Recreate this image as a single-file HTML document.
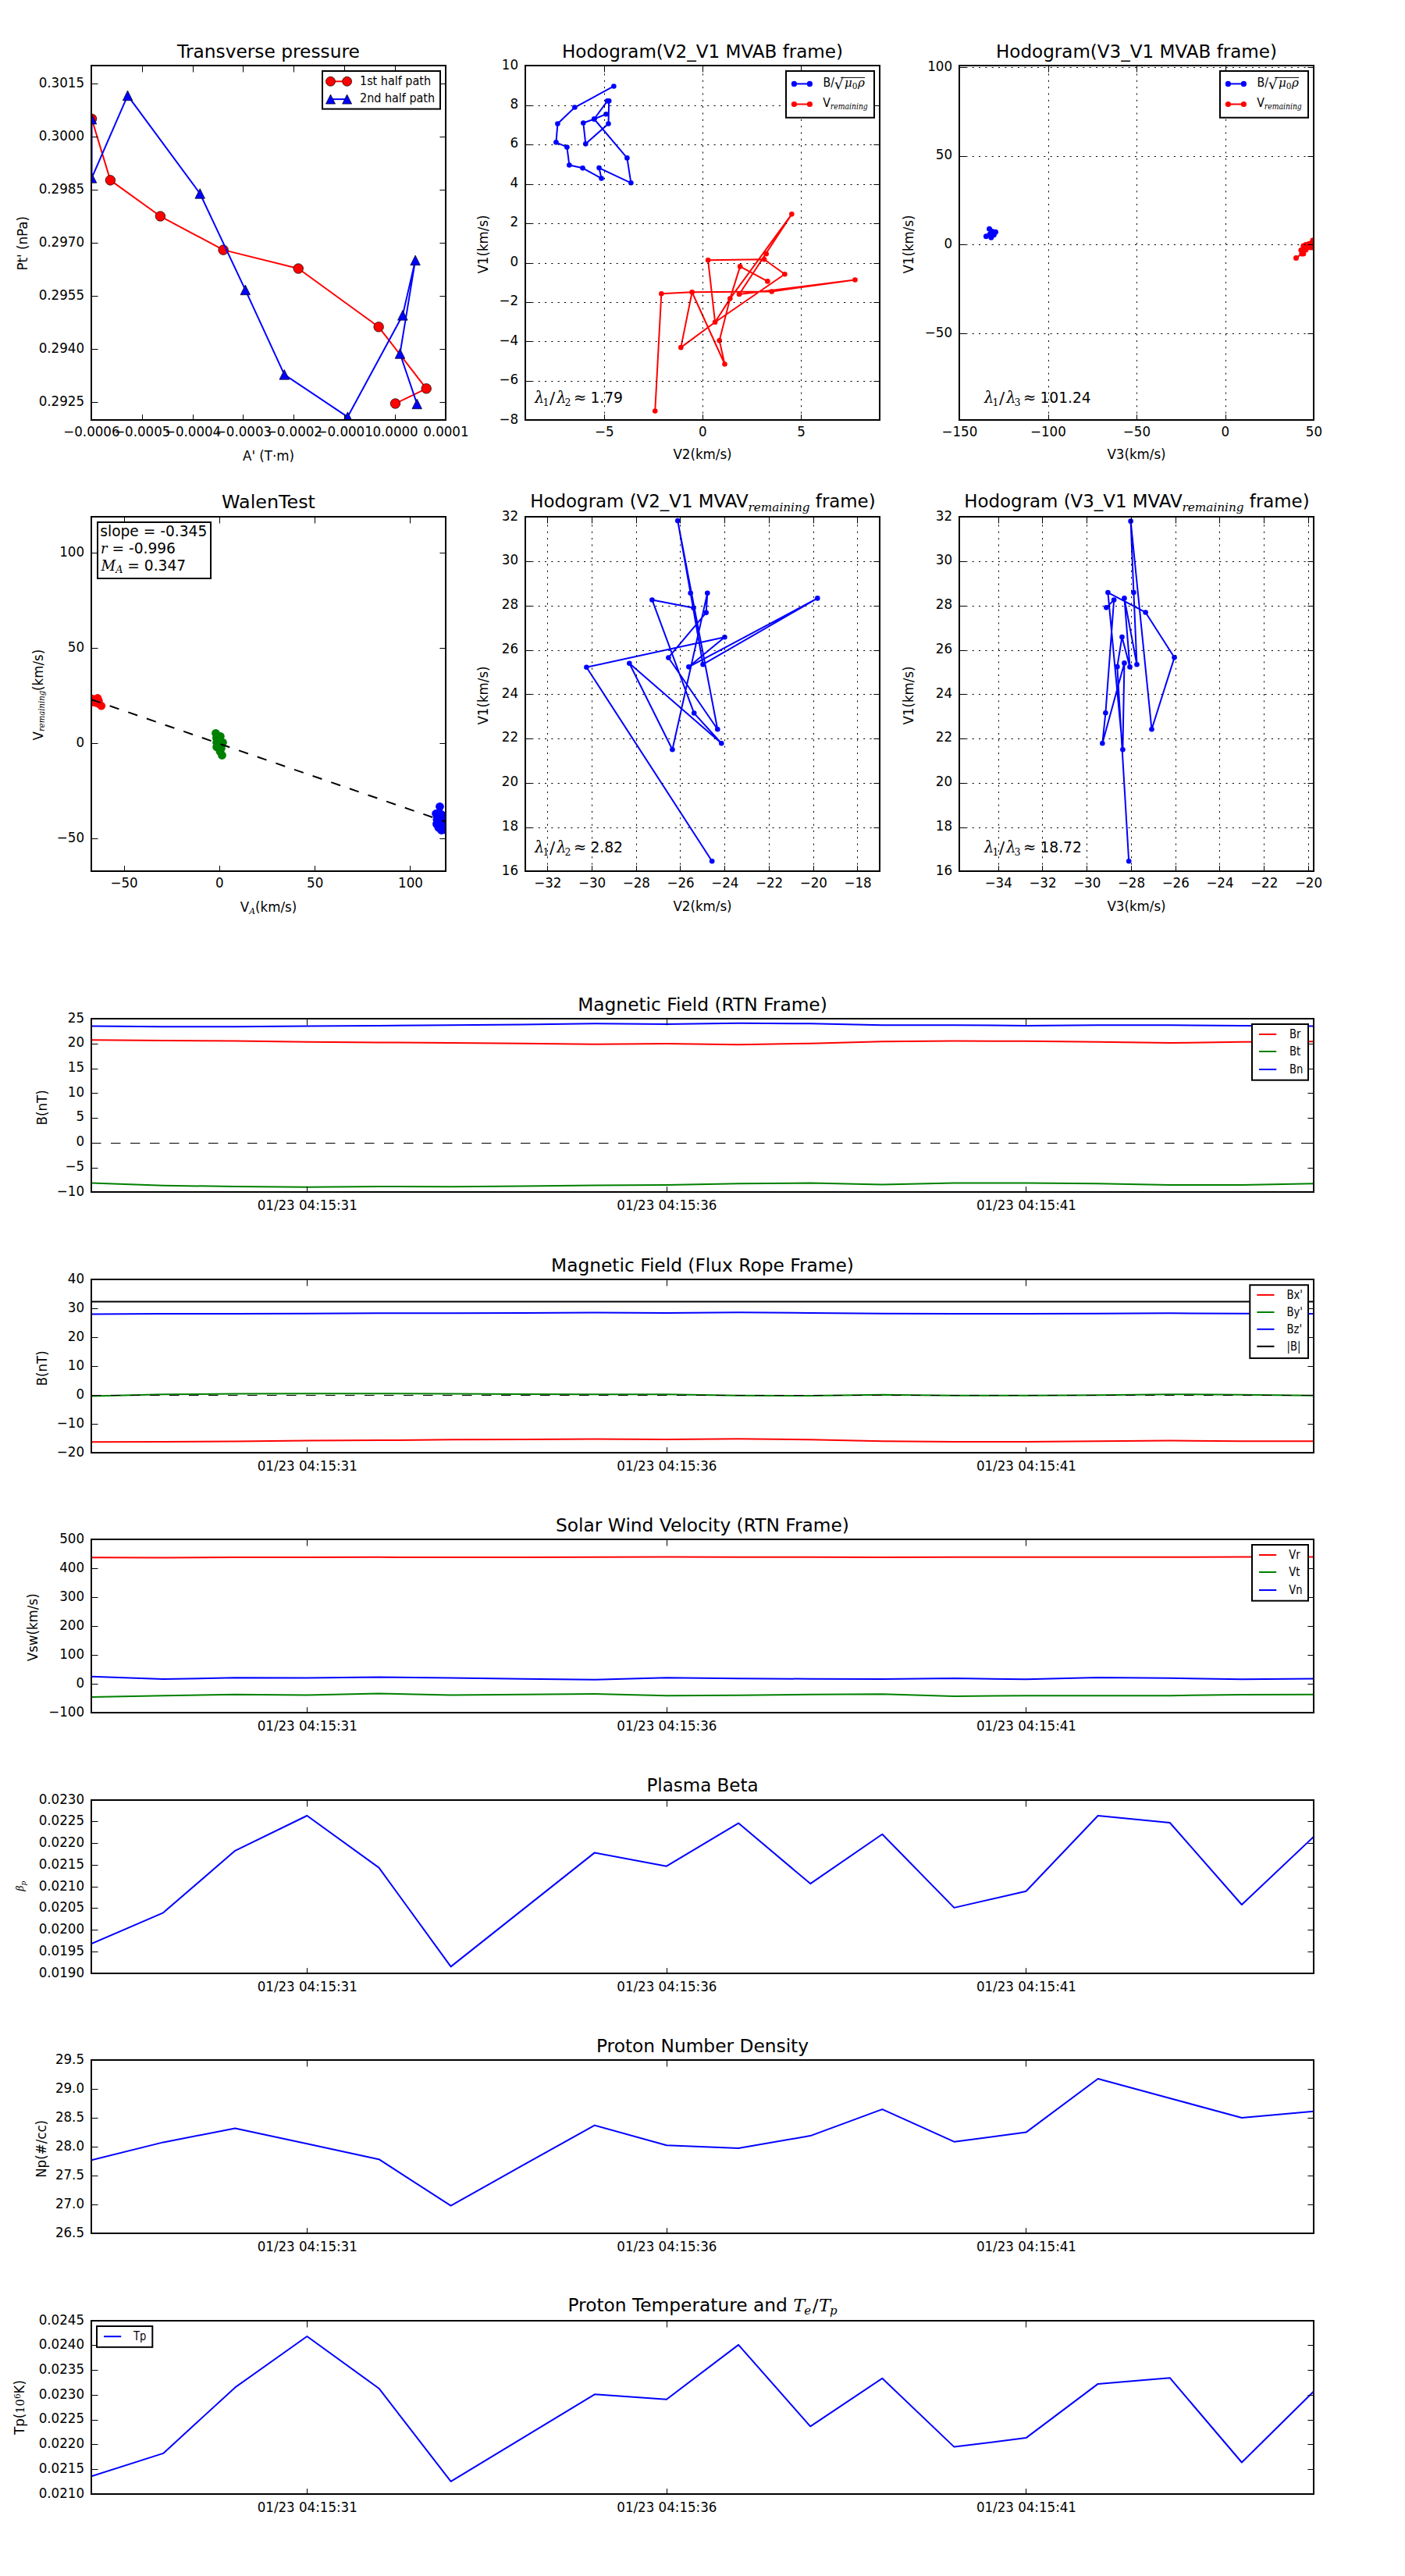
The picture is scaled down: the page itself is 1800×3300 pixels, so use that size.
<!DOCTYPE html>
<html><head><meta charset="utf-8"><title>Figure</title>
<style>html,body{margin:0;padding:0;background:#fff}svg{display:block}</style>
</head><body>
<svg width="1800" height="3300" viewBox="0 0 1800 3300" font-family='"DejaVu Sans", "Liberation Sans", sans-serif'>
<rect width="1800" height="3300" fill="#fff"/>
<clipPath id="c1"><rect x="117" y="84" width="454" height="454"/></clipPath>
<g clip-path="url(#c1)">
<polyline fill="none" stroke="#ff0000" stroke-width="2" stroke-linejoin="round" points="117.5,152.2 141.35,230.89 205.41,277.01 286.12,320.14 382.2,344.05 485.12,418.78 546.18,497.79 506.47,517"/>
<circle cx="117.5" cy="152.2" r="6.3" fill="#ff0000" stroke="#000" stroke-width="0.7"/>
<circle cx="141.35" cy="230.89" r="6.3" fill="#ff0000" stroke="#000" stroke-width="0.7"/>
<circle cx="205.41" cy="277.01" r="6.3" fill="#ff0000" stroke="#000" stroke-width="0.7"/>
<circle cx="286.12" cy="320.14" r="6.3" fill="#ff0000" stroke="#000" stroke-width="0.7"/>
<circle cx="382.2" cy="344.05" r="6.3" fill="#ff0000" stroke="#000" stroke-width="0.7"/>
<circle cx="485.12" cy="418.78" r="6.3" fill="#ff0000" stroke="#000" stroke-width="0.7"/>
<circle cx="546.18" cy="497.79" r="6.3" fill="#ff0000" stroke="#000" stroke-width="0.7"/>
<circle cx="506.47" cy="517" r="6.3" fill="#ff0000" stroke="#000" stroke-width="0.7"/>
<polyline fill="none" stroke="#0000ff" stroke-width="2" stroke-linejoin="round" points="117.5,152.6 117.5,228 163.56,122.42 256.22,247.97 314.3,371.38 364.27,479.85 445.4,534.09 515.86,403.84 532.09,333.38 512.45,452.95 534.23,517.43"/>
<polygon points="117.5,146.3 111.2,158.9 123.8,158.9" fill="#0000ff" stroke="#000" stroke-width="0.7" stroke-linejoin="miter"/>
<polygon points="117.5,221.7 111.2,234.3 123.8,234.3" fill="#0000ff" stroke="#000" stroke-width="0.7" stroke-linejoin="miter"/>
<polygon points="163.56,116.12 157.26,128.72 169.86,128.72" fill="#0000ff" stroke="#000" stroke-width="0.7" stroke-linejoin="miter"/>
<polygon points="256.22,241.67 249.92,254.27 262.52,254.27" fill="#0000ff" stroke="#000" stroke-width="0.7" stroke-linejoin="miter"/>
<polygon points="314.3,365.08 308,377.68 320.6,377.68" fill="#0000ff" stroke="#000" stroke-width="0.7" stroke-linejoin="miter"/>
<polygon points="364.27,473.55 357.97,486.15 370.57,486.15" fill="#0000ff" stroke="#000" stroke-width="0.7" stroke-linejoin="miter"/>
<polygon points="445.4,527.79 439.1,540.39 451.7,540.39" fill="#0000ff" stroke="#000" stroke-width="0.7" stroke-linejoin="miter"/>
<polygon points="515.86,397.54 509.56,410.14 522.16,410.14" fill="#0000ff" stroke="#000" stroke-width="0.7" stroke-linejoin="miter"/>
<polygon points="532.09,327.08 525.79,339.68 538.39,339.68" fill="#0000ff" stroke="#000" stroke-width="0.7" stroke-linejoin="miter"/>
<polygon points="512.45,446.65 506.15,459.25 518.75,459.25" fill="#0000ff" stroke="#000" stroke-width="0.7" stroke-linejoin="miter"/>
<polygon points="534.23,511.13 527.93,523.73 540.53,523.73" fill="#0000ff" stroke="#000" stroke-width="0.7" stroke-linejoin="miter"/>
</g>
<rect x="117" y="84" width="454" height="454" fill="none" stroke="#000" stroke-width="2"/>
<text transform="translate(117.4 559.4) scale(0.947 1)" font-size="17.6" text-anchor="middle" fill="#000">−0.0006</text>
<line x1="182.5" y1="538" x2="182.5" y2="531.1" stroke="#000" stroke-width="1"/>
<line x1="182.5" y1="84" x2="182.5" y2="92.5" stroke="#000" stroke-width="1"/>
<text transform="translate(182.26 559.4) scale(0.947 1)" font-size="17.6" text-anchor="middle" fill="#000">−0.0005</text>
<line x1="247.5" y1="538" x2="247.5" y2="531.1" stroke="#000" stroke-width="1"/>
<line x1="247.5" y1="84" x2="247.5" y2="92.5" stroke="#000" stroke-width="1"/>
<text transform="translate(247.11 559.4) scale(0.947 1)" font-size="17.6" text-anchor="middle" fill="#000">−0.0004</text>
<line x1="311.5" y1="538" x2="311.5" y2="531.1" stroke="#000" stroke-width="1"/>
<line x1="311.5" y1="84" x2="311.5" y2="92.5" stroke="#000" stroke-width="1"/>
<text transform="translate(311.97 559.4) scale(0.947 1)" font-size="17.6" text-anchor="middle" fill="#000">−0.0003</text>
<line x1="376.5" y1="538" x2="376.5" y2="531.1" stroke="#000" stroke-width="1"/>
<line x1="376.5" y1="84" x2="376.5" y2="92.5" stroke="#000" stroke-width="1"/>
<text transform="translate(376.83 559.4) scale(0.947 1)" font-size="17.6" text-anchor="middle" fill="#000">−0.0002</text>
<line x1="441.5" y1="538" x2="441.5" y2="531.1" stroke="#000" stroke-width="1"/>
<line x1="441.5" y1="84" x2="441.5" y2="92.5" stroke="#000" stroke-width="1"/>
<text transform="translate(441.68 559.4) scale(0.947 1)" font-size="17.6" text-anchor="middle" fill="#000">−0.0001</text>
<line x1="506.5" y1="538" x2="506.5" y2="531.1" stroke="#000" stroke-width="1"/>
<line x1="506.5" y1="84" x2="506.5" y2="92.5" stroke="#000" stroke-width="1"/>
<text transform="translate(506.54 559.4) scale(0.947 1)" font-size="17.6" text-anchor="middle" fill="#000">0.0000</text>
<text transform="translate(571.4 559.4) scale(0.947 1)" font-size="17.6" text-anchor="middle" fill="#000">0.0001</text>
<line x1="117" y1="107.5" x2="125.5" y2="107.5" stroke="#000" stroke-width="1"/>
<line x1="571" y1="107.5" x2="563.4" y2="107.5" stroke="#000" stroke-width="1"/>
<text transform="translate(108 111.6) scale(0.947 1)" font-size="17.6" text-anchor="end" fill="#000">0.3015</text>
<line x1="117" y1="175.5" x2="125.5" y2="175.5" stroke="#000" stroke-width="1"/>
<line x1="571" y1="175.5" x2="563.4" y2="175.5" stroke="#000" stroke-width="1"/>
<text transform="translate(108 179.6) scale(0.947 1)" font-size="17.6" text-anchor="end" fill="#000">0.3000</text>
<line x1="117" y1="243.5" x2="125.5" y2="243.5" stroke="#000" stroke-width="1"/>
<line x1="571" y1="243.5" x2="563.4" y2="243.5" stroke="#000" stroke-width="1"/>
<text transform="translate(108 247.6) scale(0.947 1)" font-size="17.6" text-anchor="end" fill="#000">0.2985</text>
<line x1="117" y1="311.5" x2="125.5" y2="311.5" stroke="#000" stroke-width="1"/>
<line x1="571" y1="311.5" x2="563.4" y2="311.5" stroke="#000" stroke-width="1"/>
<text transform="translate(108 315.6) scale(0.947 1)" font-size="17.6" text-anchor="end" fill="#000">0.2970</text>
<line x1="117" y1="379.5" x2="125.5" y2="379.5" stroke="#000" stroke-width="1"/>
<line x1="571" y1="379.5" x2="563.4" y2="379.5" stroke="#000" stroke-width="1"/>
<text transform="translate(108 383.6) scale(0.947 1)" font-size="17.6" text-anchor="end" fill="#000">0.2955</text>
<line x1="117" y1="447.5" x2="125.5" y2="447.5" stroke="#000" stroke-width="1"/>
<line x1="571" y1="447.5" x2="563.4" y2="447.5" stroke="#000" stroke-width="1"/>
<text transform="translate(108 451.6) scale(0.947 1)" font-size="17.6" text-anchor="end" fill="#000">0.2940</text>
<line x1="117" y1="515.5" x2="125.5" y2="515.5" stroke="#000" stroke-width="1"/>
<line x1="571" y1="515.5" x2="563.4" y2="515.5" stroke="#000" stroke-width="1"/>
<text transform="translate(108 519.6) scale(0.947 1)" font-size="17.6" text-anchor="end" fill="#000">0.2925</text>
<text x="344" y="73.6" font-size="23.3" text-anchor="middle" fill="#000">Transverse pressure</text>
<text transform="translate(344 590.3) scale(0.947 1)" font-size="17.6" text-anchor="middle" fill="#000">A' (T·m)</text>
<text transform="translate(35 311.7) rotate(-90) scale(0.947 1)" font-size="17.6" text-anchor="middle">Pt' (nPa)</text>
<rect x="413" y="91" width="151" height="48.6" fill="#fff" stroke="#000" stroke-width="2"/>
<line x1="423.5" y1="104.3" x2="444.6" y2="104.3" stroke="#ff0000" stroke-width="2"/>
<circle cx="423.5" cy="104.3" r="6" fill="#ff0000" stroke="#000" stroke-width="0.7"/>
<circle cx="444.6" cy="104.3" r="6" fill="#ff0000" stroke="#000" stroke-width="0.7"/>
<line x1="423.5" y1="127.1" x2="444.6" y2="127.1" stroke="#0000ff" stroke-width="2"/>
<polygon points="423.5,121.1 417.5,133.1 429.5,133.1" fill="#0000ff" stroke="#000" stroke-width="0.7" stroke-linejoin="miter"/>
<polygon points="444.6,121.1 438.6,133.1 450.6,133.1" fill="#0000ff" stroke="#000" stroke-width="0.7" stroke-linejoin="miter"/>
<text transform="translate(461 108.5) scale(0.94 1)" font-size="15.3" text-anchor="start" fill="#000">1st half path</text>
<text transform="translate(461 131.3) scale(0.94 1)" font-size="15.3" text-anchor="start" fill="#000">2nd half path</text>
<clipPath id="c2"><rect x="673" y="84" width="454" height="454"/></clipPath>
<g clip-path="url(#c2)">
<polyline fill="none" stroke="#0000ff" stroke-width="2" stroke-linejoin="round" points="786.35,110.43 736.33,137.53 714.41,158.45 712.42,182.37 726.37,188.45 729.36,211.56 746.5,215.35 770.51,228.5 767.52,215.05 808.37,234.28 803.39,202.4 761.24,152.48 778.18,129.36 780.18,129.36 779.48,158.45 750.28,184.36 747.29,157.46 761.24,152.48 776.49,146.3"/>
<circle cx="786.35" cy="110.43" r="3.3" fill="#0000ff"/>
<circle cx="736.33" cy="137.53" r="3.3" fill="#0000ff"/>
<circle cx="714.41" cy="158.45" r="3.3" fill="#0000ff"/>
<circle cx="712.42" cy="182.37" r="3.3" fill="#0000ff"/>
<circle cx="726.37" cy="188.45" r="3.3" fill="#0000ff"/>
<circle cx="729.36" cy="211.56" r="3.3" fill="#0000ff"/>
<circle cx="746.5" cy="215.35" r="3.3" fill="#0000ff"/>
<circle cx="770.51" cy="228.5" r="3.3" fill="#0000ff"/>
<circle cx="767.52" cy="215.05" r="3.3" fill="#0000ff"/>
<circle cx="808.37" cy="234.28" r="3.3" fill="#0000ff"/>
<circle cx="803.39" cy="202.4" r="3.3" fill="#0000ff"/>
<circle cx="761.24" cy="152.48" r="3.3" fill="#0000ff"/>
<circle cx="778.18" cy="129.36" r="3.3" fill="#0000ff"/>
<circle cx="780.18" cy="129.36" r="3.3" fill="#0000ff"/>
<circle cx="779.48" cy="158.45" r="3.3" fill="#0000ff"/>
<circle cx="750.28" cy="184.36" r="3.3" fill="#0000ff"/>
<circle cx="747.29" cy="157.46" r="3.3" fill="#0000ff"/>
<circle cx="761.24" cy="152.48" r="3.3" fill="#0000ff"/>
<circle cx="776.49" cy="146.3" r="3.3" fill="#0000ff"/>
<polyline fill="none" stroke="#ff0000" stroke-width="2" stroke-linejoin="round" points="839.22,526.53 847.33,376.2 886.62,374.28 872.32,445.17 916.09,412.72 1005.35,351.22 979.09,332.21 907.12,333.28 916.09,412.72 935.31,382.61 1014.32,274.34 947.06,377.06 1095.46,358.48 988.7,373.43 886.62,374.28 928.48,466.53 921.64,436.21 935.31,382.61 948.12,341.39 983.36,360.4"/>
<circle cx="839.22" cy="526.53" r="3.3" fill="#ff0000"/>
<circle cx="847.33" cy="376.2" r="3.3" fill="#ff0000"/>
<circle cx="886.62" cy="374.28" r="3.3" fill="#ff0000"/>
<circle cx="928.48" cy="466.53" r="3.3" fill="#ff0000"/>
<circle cx="921.64" cy="436.21" r="3.3" fill="#ff0000"/>
<circle cx="935.31" cy="382.61" r="3.3" fill="#ff0000"/>
<circle cx="948.12" cy="341.39" r="3.3" fill="#ff0000"/>
<circle cx="983.36" cy="360.4" r="3.3" fill="#ff0000"/>
<circle cx="1005.35" cy="351.22" r="3.3" fill="#ff0000"/>
<circle cx="979.09" cy="332.21" r="3.3" fill="#ff0000"/>
<circle cx="907.12" cy="333.28" r="3.3" fill="#ff0000"/>
<circle cx="916.09" cy="412.72" r="3.3" fill="#ff0000"/>
<circle cx="1014.32" cy="274.34" r="3.3" fill="#ff0000"/>
<circle cx="981.65" cy="325.17" r="3.3" fill="#ff0000"/>
<circle cx="947.06" cy="377.06" r="3.3" fill="#ff0000"/>
<circle cx="1095.46" cy="358.48" r="3.3" fill="#ff0000"/>
<circle cx="988.7" cy="373.43" r="3.3" fill="#ff0000"/>
<circle cx="872.32" cy="445.17" r="3.3" fill="#ff0000"/>
</g>
<line x1="774.5" y1="538" x2="774.5" y2="84" stroke="#000" stroke-width="1" stroke-dasharray="2.08 6.25"/>
<line x1="900.5" y1="538" x2="900.5" y2="84" stroke="#000" stroke-width="1" stroke-dasharray="2.08 6.25"/>
<line x1="1026.5" y1="538" x2="1026.5" y2="84" stroke="#000" stroke-width="1" stroke-dasharray="2.08 6.25"/>
<line x1="673" y1="488.5" x2="1127" y2="488.5" stroke="#000" stroke-width="1" stroke-dasharray="2.08 6.25"/>
<line x1="673" y1="437.5" x2="1127" y2="437.5" stroke="#000" stroke-width="1" stroke-dasharray="2.08 6.25"/>
<line x1="673" y1="387.5" x2="1127" y2="387.5" stroke="#000" stroke-width="1" stroke-dasharray="2.08 6.25"/>
<line x1="673" y1="337.5" x2="1127" y2="337.5" stroke="#000" stroke-width="1" stroke-dasharray="2.08 6.25"/>
<line x1="673" y1="286.5" x2="1127" y2="286.5" stroke="#000" stroke-width="1" stroke-dasharray="2.08 6.25"/>
<line x1="673" y1="236.5" x2="1127" y2="236.5" stroke="#000" stroke-width="1" stroke-dasharray="2.08 6.25"/>
<line x1="673" y1="185.5" x2="1127" y2="185.5" stroke="#000" stroke-width="1" stroke-dasharray="2.08 6.25"/>
<line x1="673" y1="135.5" x2="1127" y2="135.5" stroke="#000" stroke-width="1" stroke-dasharray="2.08 6.25"/>
<rect x="673" y="84" width="454" height="454" fill="none" stroke="#000" stroke-width="2"/>
<line x1="774.5" y1="538" x2="774.5" y2="531.1" stroke="#000" stroke-width="1"/>
<line x1="774.5" y1="84" x2="774.5" y2="92.5" stroke="#000" stroke-width="1"/>
<text transform="translate(774.29 559.4) scale(0.947 1)" font-size="17.6" text-anchor="middle" fill="#000">−5</text>
<line x1="900.5" y1="538" x2="900.5" y2="531.1" stroke="#000" stroke-width="1"/>
<line x1="900.5" y1="84" x2="900.5" y2="92.5" stroke="#000" stroke-width="1"/>
<text transform="translate(900.4 559.4) scale(0.947 1)" font-size="17.6" text-anchor="middle" fill="#000">0</text>
<line x1="1026.5" y1="538" x2="1026.5" y2="531.1" stroke="#000" stroke-width="1"/>
<line x1="1026.5" y1="84" x2="1026.5" y2="92.5" stroke="#000" stroke-width="1"/>
<text transform="translate(1026.51 559.4) scale(0.947 1)" font-size="17.6" text-anchor="middle" fill="#000">5</text>
<text transform="translate(664 88.6) scale(0.947 1)" font-size="17.6" text-anchor="end" fill="#000">10</text>
<line x1="673" y1="135.5" x2="681.5" y2="135.5" stroke="#000" stroke-width="1"/>
<line x1="1127" y1="135.5" x2="1119.4" y2="135.5" stroke="#000" stroke-width="1"/>
<text transform="translate(664 139.04) scale(0.947 1)" font-size="17.6" text-anchor="end" fill="#000">8</text>
<line x1="673" y1="185.5" x2="681.5" y2="185.5" stroke="#000" stroke-width="1"/>
<line x1="1127" y1="185.5" x2="1119.4" y2="185.5" stroke="#000" stroke-width="1"/>
<text transform="translate(664 189.49) scale(0.947 1)" font-size="17.6" text-anchor="end" fill="#000">6</text>
<line x1="673" y1="236.5" x2="681.5" y2="236.5" stroke="#000" stroke-width="1"/>
<line x1="1127" y1="236.5" x2="1119.4" y2="236.5" stroke="#000" stroke-width="1"/>
<text transform="translate(664 239.93) scale(0.947 1)" font-size="17.6" text-anchor="end" fill="#000">4</text>
<line x1="673" y1="286.5" x2="681.5" y2="286.5" stroke="#000" stroke-width="1"/>
<line x1="1127" y1="286.5" x2="1119.4" y2="286.5" stroke="#000" stroke-width="1"/>
<text transform="translate(664 290.38) scale(0.947 1)" font-size="17.6" text-anchor="end" fill="#000">2</text>
<line x1="673" y1="337.5" x2="681.5" y2="337.5" stroke="#000" stroke-width="1"/>
<line x1="1127" y1="337.5" x2="1119.4" y2="337.5" stroke="#000" stroke-width="1"/>
<text transform="translate(664 340.82) scale(0.947 1)" font-size="17.6" text-anchor="end" fill="#000">0</text>
<line x1="673" y1="387.5" x2="681.5" y2="387.5" stroke="#000" stroke-width="1"/>
<line x1="1127" y1="387.5" x2="1119.4" y2="387.5" stroke="#000" stroke-width="1"/>
<text transform="translate(664 391.27) scale(0.947 1)" font-size="17.6" text-anchor="end" fill="#000">−2</text>
<line x1="673" y1="437.5" x2="681.5" y2="437.5" stroke="#000" stroke-width="1"/>
<line x1="1127" y1="437.5" x2="1119.4" y2="437.5" stroke="#000" stroke-width="1"/>
<text transform="translate(664 441.71) scale(0.947 1)" font-size="17.6" text-anchor="end" fill="#000">−4</text>
<line x1="673" y1="488.5" x2="681.5" y2="488.5" stroke="#000" stroke-width="1"/>
<line x1="1127" y1="488.5" x2="1119.4" y2="488.5" stroke="#000" stroke-width="1"/>
<text transform="translate(664 492.16) scale(0.947 1)" font-size="17.6" text-anchor="end" fill="#000">−6</text>
<text transform="translate(664 542.6) scale(0.947 1)" font-size="17.6" text-anchor="end" fill="#000">−8</text>
<text x="900" y="73.6" font-size="23.05" text-anchor="middle" fill="#000">Hodogram(V2_V1 MVAB frame)</text>
<text transform="translate(900 588.4) scale(0.947 1)" font-size="17.6" text-anchor="middle" fill="#000">V2(km/s)</text>
<text transform="translate(625.2 313) rotate(-90) scale(0.947 1)" font-size="17.6" text-anchor="middle">V1(km/s)</text>
<rect x="1007" y="91" width="113" height="59.7" fill="#fff" stroke="#000" stroke-width="2"/>
<line x1="1017.4" y1="107.4" x2="1037.4" y2="107.4" stroke="#0000ff" stroke-width="2"/>
<circle cx="1017.4" cy="107.4" r="3.6" fill="#0000ff"/>
<circle cx="1037.4" cy="107.4" r="3.6" fill="#0000ff"/>
<line x1="1017.4" y1="133.5" x2="1037.4" y2="133.5" stroke="#ff0000" stroke-width="2"/>
<circle cx="1017.4" cy="133.5" r="3.6" fill="#ff0000"/>
<circle cx="1037.4" cy="133.5" r="3.6" fill="#ff0000"/>
<text transform="translate(1054.6 110.9) scale(0.9 1)" font-size="15.7" text-anchor="start" fill="#000">B/</text>
<text x="1068.8" y="114.3" font-size="19" text-anchor="start" font-family='"DejaVu Sans", "Liberation Sans", sans-serif'>√</text>
<text x="1082.1" y="110.9" font-size="15" text-anchor="start" font-family='"DejaVu Serif", "Liberation Serif", serif' font-style="italic">μ<tspan font-size="10.5" font-style="normal" dy="3">0</tspan><tspan dy="-3" dx="0.5">ρ</tspan></text>
<line x1="1076.9" y1="99.4" x2="1108" y2="99.4" stroke="#000" stroke-width="1"/>
<text transform="translate(1054.2 137.3) scale(0.9 1)" font-size="15.7" text-anchor="start" fill="#000">V</text>
<text x="1063.8" y="139.9" font-size="10.5" text-anchor="start" font-family='"DejaVu Serif", "Liberation Serif", serif' font-style="italic" textLength="48" lengthAdjust="spacingAndGlyphs">remaining</text>
<text y="516" font-size="19.5" text-anchor="start"><tspan x="685" font-family='"DejaVu Serif", "Liberation Serif", serif' font-style="italic">λ</tspan><tspan x="695.6" dy="3.6" font-size="12.5" font-family='"DejaVu Serif", "Liberation Serif", serif'>1</tspan><tspan x="704" dy="-2.2" font-size="21" font-family='"DejaVu Serif", "Liberation Serif", serif'>/</tspan><tspan x="713.2" dy="-1.4" font-family='"DejaVu Serif", "Liberation Serif", serif' font-style="italic">λ</tspan><tspan x="723.4" dy="3.6" font-size="12.5" font-family='"DejaVu Serif", "Liberation Serif", serif'>2</tspan><tspan x="734.8" dy="-3.6" font-size="20" font-family='"DejaVu Serif", "Liberation Serif", serif'>≈</tspan></text>
<text transform="translate(756.4 516) scale(0.963 1)" font-size="19.4" text-anchor="start" fill="#000">1.79</text>
<clipPath id="c3"><rect x="1229" y="84" width="454" height="454"/></clipPath>
<g clip-path="url(#c3)">
<polyline fill="none" stroke="#0000ff" stroke-width="2" stroke-linejoin="round" points="1263.4,302.66 1269.89,304.16 1268.18,299.89 1273.3,300.74 1275.44,297.33 1271.17,296.47 1267.54,293.27"/>
<circle cx="1263.4" cy="302.66" r="3.5" fill="#0000ff"/>
<circle cx="1269.89" cy="304.16" r="3.5" fill="#0000ff"/>
<circle cx="1268.18" cy="299.89" r="3.5" fill="#0000ff"/>
<circle cx="1273.3" cy="300.74" r="3.5" fill="#0000ff"/>
<circle cx="1275.44" cy="297.33" r="3.5" fill="#0000ff"/>
<circle cx="1271.17" cy="296.47" r="3.5" fill="#0000ff"/>
<circle cx="1267.54" cy="293.27" r="3.5" fill="#0000ff"/>
<polyline fill="none" stroke="#ff0000" stroke-width="2" stroke-linejoin="round" points="1660.49,330.61 1667.87,324.88 1666.87,320.39 1669.86,321.89 1672.85,319.9 1669.86,314.91 1672.85,313.42 1677.83,316.91 1676.84,312.42 1680.82,316.91 1679.83,311.43 1681.82,307.94 1670.86,317.9 1673.85,316.91 1669.86,324.88"/>
<circle cx="1660.49" cy="330.61" r="3.5" fill="#ff0000"/>
<circle cx="1667.87" cy="324.88" r="3.5" fill="#ff0000"/>
<circle cx="1666.87" cy="320.39" r="3.5" fill="#ff0000"/>
<circle cx="1669.86" cy="321.89" r="3.5" fill="#ff0000"/>
<circle cx="1672.85" cy="319.9" r="3.5" fill="#ff0000"/>
<circle cx="1669.86" cy="314.91" r="3.5" fill="#ff0000"/>
<circle cx="1672.85" cy="313.42" r="3.5" fill="#ff0000"/>
<circle cx="1677.83" cy="316.91" r="3.5" fill="#ff0000"/>
<circle cx="1676.84" cy="312.42" r="3.5" fill="#ff0000"/>
<circle cx="1680.82" cy="316.91" r="3.5" fill="#ff0000"/>
<circle cx="1679.83" cy="311.43" r="3.5" fill="#ff0000"/>
<circle cx="1681.82" cy="307.94" r="3.5" fill="#ff0000"/>
<circle cx="1670.86" cy="317.9" r="3.5" fill="#ff0000"/>
<circle cx="1673.85" cy="316.91" r="3.5" fill="#ff0000"/>
<circle cx="1669.86" cy="324.88" r="3.5" fill="#ff0000"/>
</g>
<line x1="1343.5" y1="538" x2="1343.5" y2="84" stroke="#000" stroke-width="1" stroke-dasharray="2.08 6.25"/>
<line x1="1456.5" y1="538" x2="1456.5" y2="84" stroke="#000" stroke-width="1" stroke-dasharray="2.08 6.25"/>
<line x1="1570.5" y1="538" x2="1570.5" y2="84" stroke="#000" stroke-width="1" stroke-dasharray="2.08 6.25"/>
<line x1="1229" y1="86.5" x2="1683" y2="86.5" stroke="#000" stroke-width="1" stroke-dasharray="2.08 6.25"/>
<line x1="1229" y1="200.5" x2="1683" y2="200.5" stroke="#000" stroke-width="1" stroke-dasharray="2.08 6.25"/>
<line x1="1229" y1="313.5" x2="1683" y2="313.5" stroke="#000" stroke-width="1" stroke-dasharray="2.08 6.25"/>
<line x1="1229" y1="427.5" x2="1683" y2="427.5" stroke="#000" stroke-width="1" stroke-dasharray="2.08 6.25"/>
<rect x="1229" y="84" width="454" height="454" fill="none" stroke="#000" stroke-width="2"/>
<text transform="translate(1229.4 559.4) scale(0.947 1)" font-size="17.6" text-anchor="middle" fill="#000">−150</text>
<line x1="1343.5" y1="538" x2="1343.5" y2="531.1" stroke="#000" stroke-width="1"/>
<line x1="1343.5" y1="84" x2="1343.5" y2="92.5" stroke="#000" stroke-width="1"/>
<text transform="translate(1342.9 559.4) scale(0.947 1)" font-size="17.6" text-anchor="middle" fill="#000">−100</text>
<line x1="1456.5" y1="538" x2="1456.5" y2="531.1" stroke="#000" stroke-width="1"/>
<line x1="1456.5" y1="84" x2="1456.5" y2="92.5" stroke="#000" stroke-width="1"/>
<text transform="translate(1456.4 559.4) scale(0.947 1)" font-size="17.6" text-anchor="middle" fill="#000">−50</text>
<line x1="1570.5" y1="538" x2="1570.5" y2="531.1" stroke="#000" stroke-width="1"/>
<line x1="1570.5" y1="84" x2="1570.5" y2="92.5" stroke="#000" stroke-width="1"/>
<text transform="translate(1569.9 559.4) scale(0.947 1)" font-size="17.6" text-anchor="middle" fill="#000">0</text>
<text transform="translate(1683.4 559.4) scale(0.947 1)" font-size="17.6" text-anchor="middle" fill="#000">50</text>
<line x1="1229" y1="86.5" x2="1237.5" y2="86.5" stroke="#000" stroke-width="1"/>
<line x1="1683" y1="86.5" x2="1675.4" y2="86.5" stroke="#000" stroke-width="1"/>
<text transform="translate(1220 90.63) scale(0.947 1)" font-size="17.6" text-anchor="end" fill="#000">100</text>
<line x1="1229" y1="200.5" x2="1237.5" y2="200.5" stroke="#000" stroke-width="1"/>
<line x1="1683" y1="200.5" x2="1675.4" y2="200.5" stroke="#000" stroke-width="1"/>
<text transform="translate(1220 204.36) scale(0.947 1)" font-size="17.6" text-anchor="end" fill="#000">50</text>
<line x1="1229" y1="313.5" x2="1237.5" y2="313.5" stroke="#000" stroke-width="1"/>
<line x1="1683" y1="313.5" x2="1675.4" y2="313.5" stroke="#000" stroke-width="1"/>
<text transform="translate(1220 318.1) scale(0.947 1)" font-size="17.6" text-anchor="end" fill="#000">0</text>
<line x1="1229" y1="427.5" x2="1237.5" y2="427.5" stroke="#000" stroke-width="1"/>
<line x1="1683" y1="427.5" x2="1675.4" y2="427.5" stroke="#000" stroke-width="1"/>
<text transform="translate(1220 431.83) scale(0.947 1)" font-size="17.6" text-anchor="end" fill="#000">−50</text>
<text x="1456" y="73.6" font-size="23.05" text-anchor="middle" fill="#000">Hodogram(V3_V1 MVAB frame)</text>
<text transform="translate(1456 588.4) scale(0.947 1)" font-size="17.6" text-anchor="middle" fill="#000">V3(km/s)</text>
<text transform="translate(1170.4 313) rotate(-90) scale(0.947 1)" font-size="17.6" text-anchor="middle">V1(km/s)</text>
<rect x="1563" y="91" width="113" height="59.7" fill="#fff" stroke="#000" stroke-width="2"/>
<line x1="1573.4" y1="107.4" x2="1593.4" y2="107.4" stroke="#0000ff" stroke-width="2"/>
<circle cx="1573.4" cy="107.4" r="3.6" fill="#0000ff"/>
<circle cx="1593.4" cy="107.4" r="3.6" fill="#0000ff"/>
<line x1="1573.4" y1="133.5" x2="1593.4" y2="133.5" stroke="#ff0000" stroke-width="2"/>
<circle cx="1573.4" cy="133.5" r="3.6" fill="#ff0000"/>
<circle cx="1593.4" cy="133.5" r="3.6" fill="#ff0000"/>
<text transform="translate(1610.6 110.9) scale(0.9 1)" font-size="15.7" text-anchor="start" fill="#000">B/</text>
<text x="1624.8" y="114.3" font-size="19" text-anchor="start" font-family='"DejaVu Sans", "Liberation Sans", sans-serif'>√</text>
<text x="1638.1" y="110.9" font-size="15" text-anchor="start" font-family='"DejaVu Serif", "Liberation Serif", serif' font-style="italic">μ<tspan font-size="10.5" font-style="normal" dy="3">0</tspan><tspan dy="-3" dx="0.5">ρ</tspan></text>
<line x1="1632.9" y1="99.4" x2="1664" y2="99.4" stroke="#000" stroke-width="1"/>
<text transform="translate(1610.2 137.3) scale(0.9 1)" font-size="15.7" text-anchor="start" fill="#000">V</text>
<text x="1619.8" y="139.9" font-size="10.5" text-anchor="start" font-family='"DejaVu Serif", "Liberation Serif", serif' font-style="italic" textLength="48" lengthAdjust="spacingAndGlyphs">remaining</text>
<text y="516" font-size="19.5" text-anchor="start"><tspan x="1261" font-family='"DejaVu Serif", "Liberation Serif", serif' font-style="italic">λ</tspan><tspan x="1271.6" dy="3.6" font-size="12.5" font-family='"DejaVu Serif", "Liberation Serif", serif'>1</tspan><tspan x="1280" dy="-2.2" font-size="21" font-family='"DejaVu Serif", "Liberation Serif", serif'>/</tspan><tspan x="1289.2" dy="-1.4" font-family='"DejaVu Serif", "Liberation Serif", serif' font-style="italic">λ</tspan><tspan x="1299.4" dy="3.6" font-size="12.5" font-family='"DejaVu Serif", "Liberation Serif", serif'>3</tspan><tspan x="1310.8" dy="-3.6" font-size="20" font-family='"DejaVu Serif", "Liberation Serif", serif'>≈</tspan></text>
<text transform="translate(1332.4 516) scale(0.963 1)" font-size="19.4" text-anchor="start" fill="#000">101.24</text>
<clipPath id="c4"><rect x="117" y="662" width="454" height="454"/></clipPath>
<g clip-path="url(#c4)">
<circle cx="118.72" cy="895.26" r="5.3" fill="#ff0000"/>
<circle cx="121.71" cy="896.97" r="5.3" fill="#ff0000"/>
<circle cx="125.12" cy="894.41" r="5.3" fill="#ff0000"/>
<circle cx="123.84" cy="900.39" r="5.3" fill="#ff0000"/>
<circle cx="127.26" cy="902.1" r="5.3" fill="#ff0000"/>
<circle cx="129.82" cy="904.23" r="5.3" fill="#ff0000"/>
<circle cx="120" cy="899.53" r="5.3" fill="#ff0000"/>
<circle cx="126.4" cy="897.83" r="5.3" fill="#ff0000"/>
<circle cx="276.44" cy="939.36" r="5.4" fill="#008000"/>
<circle cx="282.35" cy="943.35" r="5.4" fill="#008000"/>
<circle cx="277.37" cy="945.62" r="5.4" fill="#008000"/>
<circle cx="285.41" cy="951.17" r="5.4" fill="#008000"/>
<circle cx="277.58" cy="951.32" r="5.4" fill="#008000"/>
<circle cx="277.58" cy="957.01" r="5.4" fill="#008000"/>
<circle cx="283.42" cy="958.43" r="5.4" fill="#008000"/>
<circle cx="281.99" cy="962.7" r="5.4" fill="#008000"/>
<circle cx="284.48" cy="967.54" r="5.4" fill="#008000"/>
<circle cx="563.45" cy="1033.35" r="5.4" fill="#0000ff"/>
<circle cx="558.61" cy="1042.35" r="5.4" fill="#0000ff"/>
<circle cx="564.99" cy="1043.03" r="5.4" fill="#0000ff"/>
<circle cx="570.11" cy="1045.31" r="5.4" fill="#0000ff"/>
<circle cx="559.86" cy="1049.86" r="5.4" fill="#0000ff"/>
<circle cx="568.97" cy="1051" r="5.4" fill="#0000ff"/>
<circle cx="559.46" cy="1055.56" r="5.4" fill="#0000ff"/>
<circle cx="565.56" cy="1055.56" r="5.4" fill="#0000ff"/>
<circle cx="561.86" cy="1060.11" r="5.4" fill="#0000ff"/>
<circle cx="570.11" cy="1058.97" r="5.4" fill="#0000ff"/>
<circle cx="565.56" cy="1063.53" r="5.4" fill="#0000ff"/>
<circle cx="569.54" cy="1062.96" r="5.4" fill="#0000ff"/>
<line x1="117" y1="896.1" x2="571" y2="1052.8" stroke="#000" stroke-width="2" stroke-dasharray="12.5 12.5"/>
</g>
<rect x="117" y="662" width="454" height="454" fill="none" stroke="#000" stroke-width="2"/>
<line x1="159.5" y1="1116" x2="159.5" y2="1109.1" stroke="#000" stroke-width="1"/>
<line x1="159.5" y1="662" x2="159.5" y2="670.5" stroke="#000" stroke-width="1"/>
<text transform="translate(159.1 1137.4) scale(0.947 1)" font-size="17.6" text-anchor="middle" fill="#000">−50</text>
<line x1="281.5" y1="1116" x2="281.5" y2="1109.1" stroke="#000" stroke-width="1"/>
<line x1="281.5" y1="662" x2="281.5" y2="670.5" stroke="#000" stroke-width="1"/>
<text transform="translate(281.4 1137.4) scale(0.947 1)" font-size="17.6" text-anchor="middle" fill="#000">0</text>
<line x1="403.5" y1="1116" x2="403.5" y2="1109.1" stroke="#000" stroke-width="1"/>
<line x1="403.5" y1="662" x2="403.5" y2="670.5" stroke="#000" stroke-width="1"/>
<text transform="translate(403.7 1137.4) scale(0.947 1)" font-size="17.6" text-anchor="middle" fill="#000">50</text>
<line x1="525.5" y1="1116" x2="525.5" y2="1109.1" stroke="#000" stroke-width="1"/>
<line x1="525.5" y1="662" x2="525.5" y2="670.5" stroke="#000" stroke-width="1"/>
<text transform="translate(526 1137.4) scale(0.947 1)" font-size="17.6" text-anchor="middle" fill="#000">100</text>
<line x1="117" y1="708.5" x2="125.5" y2="708.5" stroke="#000" stroke-width="1"/>
<line x1="571" y1="708.5" x2="563.4" y2="708.5" stroke="#000" stroke-width="1"/>
<text transform="translate(108 712.7) scale(0.947 1)" font-size="17.6" text-anchor="end" fill="#000">100</text>
<line x1="117" y1="830.5" x2="125.5" y2="830.5" stroke="#000" stroke-width="1"/>
<line x1="571" y1="830.5" x2="563.4" y2="830.5" stroke="#000" stroke-width="1"/>
<text transform="translate(108 834.7) scale(0.947 1)" font-size="17.6" text-anchor="end" fill="#000">50</text>
<line x1="117" y1="952.5" x2="125.5" y2="952.5" stroke="#000" stroke-width="1"/>
<line x1="571" y1="952.5" x2="563.4" y2="952.5" stroke="#000" stroke-width="1"/>
<text transform="translate(108 956.7) scale(0.947 1)" font-size="17.6" text-anchor="end" fill="#000">0</text>
<line x1="117" y1="1074.5" x2="125.5" y2="1074.5" stroke="#000" stroke-width="1"/>
<line x1="571" y1="1074.5" x2="563.4" y2="1074.5" stroke="#000" stroke-width="1"/>
<text transform="translate(108 1078.7) scale(0.947 1)" font-size="17.6" text-anchor="end" fill="#000">−50</text>
<text x="344" y="650.5" font-size="23.8" text-anchor="middle" fill="#000">WalenTest</text>
<text transform="translate(344 1167.5) scale(0.947 1)" font-size="17.6" text-anchor="middle">V<tspan font-family='"DejaVu Serif", "Liberation Serif", serif' font-style="italic" font-size="11.5" dy="3.5">A</tspan><tspan dy="-3.5">(km/s)</tspan></text>
<text transform="translate(55.1 890.1) rotate(-90) scale(0.947 1)" font-size="17.6" text-anchor="middle">V<tspan font-family='"DejaVu Serif", "Liberation Serif", serif' font-style="italic" font-size="11.8" dy="2.2" textLength="55" lengthAdjust="spacingAndGlyphs">remaining</tspan><tspan dy="-2.2">(km/s)</tspan></text>
<rect x="125" y="669" width="145" height="72" fill="#fff" stroke="#000" stroke-width="2"/>
<text transform="translate(128.3 686.6) scale(0.96 1)" font-size="19.4" text-anchor="start" fill="#000">slope = -0.345</text>
<text transform="translate(129 708.6) scale(0.96 1)" font-size="19.4"><tspan font-family='"DejaVu Serif", "Liberation Serif", serif' font-style="italic" font-size="18.5">r</tspan> = -0.996</text>
<text transform="translate(129.5 730.6) scale(0.96 1)" font-size="19.4"><tspan font-family='"DejaVu Serif", "Liberation Serif", serif' font-style="italic" font-size="19">M</tspan><tspan font-family='"DejaVu Serif", "Liberation Serif", serif' font-style="italic" font-size="13.3" dy="3.5">A</tspan><tspan dy="-3.5"> = 0.347</tspan></text>
<clipPath id="c5"><rect x="673" y="662" width="454" height="454"/></clipPath>
<g clip-path="url(#c5)">
<polyline fill="none" stroke="#0000ff" stroke-width="2" stroke-linejoin="round" points="912.2,1103.2 751.39,854.78 928.38,816.29 882.37,854.33 1047.29,766.4 900.59,851.14 884.65,759.79 868.25,667.08 919.27,934.28 856.4,842.48 904.69,784.85 906.29,759.79 861.41,960.25 806.29,849.77 924.28,952.28 889.2,913.55 835.44,768.45 888.52,778.7"/>
<circle cx="912.2" cy="1103.2" r="3.3" fill="#0000ff"/>
<circle cx="751.39" cy="854.78" r="3.3" fill="#0000ff"/>
<circle cx="928.38" cy="816.29" r="3.3" fill="#0000ff"/>
<circle cx="882.37" cy="854.33" r="3.3" fill="#0000ff"/>
<circle cx="1047.29" cy="766.4" r="3.3" fill="#0000ff"/>
<circle cx="900.59" cy="851.14" r="3.3" fill="#0000ff"/>
<circle cx="884.65" cy="759.79" r="3.3" fill="#0000ff"/>
<circle cx="868.25" cy="667.08" r="3.3" fill="#0000ff"/>
<circle cx="919.27" cy="934.28" r="3.3" fill="#0000ff"/>
<circle cx="856.4" cy="842.48" r="3.3" fill="#0000ff"/>
<circle cx="904.69" cy="784.85" r="3.3" fill="#0000ff"/>
<circle cx="906.29" cy="759.79" r="3.3" fill="#0000ff"/>
<circle cx="861.41" cy="960.25" r="3.3" fill="#0000ff"/>
<circle cx="806.29" cy="849.77" r="3.3" fill="#0000ff"/>
<circle cx="924.28" cy="952.28" r="3.3" fill="#0000ff"/>
<circle cx="889.2" cy="913.55" r="3.3" fill="#0000ff"/>
<circle cx="835.44" cy="768.45" r="3.3" fill="#0000ff"/>
<circle cx="888.52" cy="778.7" r="3.3" fill="#0000ff"/>
</g>
<line x1="701.5" y1="1116" x2="701.5" y2="662" stroke="#000" stroke-width="1" stroke-dasharray="2.08 6.25"/>
<line x1="758.5" y1="1116" x2="758.5" y2="662" stroke="#000" stroke-width="1" stroke-dasharray="2.08 6.25"/>
<line x1="815.5" y1="1116" x2="815.5" y2="662" stroke="#000" stroke-width="1" stroke-dasharray="2.08 6.25"/>
<line x1="871.5" y1="1116" x2="871.5" y2="662" stroke="#000" stroke-width="1" stroke-dasharray="2.08 6.25"/>
<line x1="928.5" y1="1116" x2="928.5" y2="662" stroke="#000" stroke-width="1" stroke-dasharray="2.08 6.25"/>
<line x1="985.5" y1="1116" x2="985.5" y2="662" stroke="#000" stroke-width="1" stroke-dasharray="2.08 6.25"/>
<line x1="1042.5" y1="1116" x2="1042.5" y2="662" stroke="#000" stroke-width="1" stroke-dasharray="2.08 6.25"/>
<line x1="1098.5" y1="1116" x2="1098.5" y2="662" stroke="#000" stroke-width="1" stroke-dasharray="2.08 6.25"/>
<line x1="673" y1="1060.5" x2="1127" y2="1060.5" stroke="#000" stroke-width="1" stroke-dasharray="2.08 6.25"/>
<line x1="673" y1="1003.5" x2="1127" y2="1003.5" stroke="#000" stroke-width="1" stroke-dasharray="2.08 6.25"/>
<line x1="673" y1="946.5" x2="1127" y2="946.5" stroke="#000" stroke-width="1" stroke-dasharray="2.08 6.25"/>
<line x1="673" y1="889.5" x2="1127" y2="889.5" stroke="#000" stroke-width="1" stroke-dasharray="2.08 6.25"/>
<line x1="673" y1="833.5" x2="1127" y2="833.5" stroke="#000" stroke-width="1" stroke-dasharray="2.08 6.25"/>
<line x1="673" y1="776.5" x2="1127" y2="776.5" stroke="#000" stroke-width="1" stroke-dasharray="2.08 6.25"/>
<line x1="673" y1="719.5" x2="1127" y2="719.5" stroke="#000" stroke-width="1" stroke-dasharray="2.08 6.25"/>
<rect x="673" y="662" width="454" height="454" fill="none" stroke="#000" stroke-width="2"/>
<line x1="701.5" y1="1116" x2="701.5" y2="1109.1" stroke="#000" stroke-width="1"/>
<line x1="701.5" y1="662" x2="701.5" y2="670.5" stroke="#000" stroke-width="1"/>
<text transform="translate(701.77 1137.4) scale(0.947 1)" font-size="17.6" text-anchor="middle" fill="#000">−32</text>
<line x1="758.5" y1="1116" x2="758.5" y2="1109.1" stroke="#000" stroke-width="1"/>
<line x1="758.5" y1="662" x2="758.5" y2="670.5" stroke="#000" stroke-width="1"/>
<text transform="translate(758.52 1137.4) scale(0.947 1)" font-size="17.6" text-anchor="middle" fill="#000">−30</text>
<line x1="815.5" y1="1116" x2="815.5" y2="1109.1" stroke="#000" stroke-width="1"/>
<line x1="815.5" y1="662" x2="815.5" y2="670.5" stroke="#000" stroke-width="1"/>
<text transform="translate(815.27 1137.4) scale(0.947 1)" font-size="17.6" text-anchor="middle" fill="#000">−28</text>
<line x1="871.5" y1="1116" x2="871.5" y2="1109.1" stroke="#000" stroke-width="1"/>
<line x1="871.5" y1="662" x2="871.5" y2="670.5" stroke="#000" stroke-width="1"/>
<text transform="translate(872.02 1137.4) scale(0.947 1)" font-size="17.6" text-anchor="middle" fill="#000">−26</text>
<line x1="928.5" y1="1116" x2="928.5" y2="1109.1" stroke="#000" stroke-width="1"/>
<line x1="928.5" y1="662" x2="928.5" y2="670.5" stroke="#000" stroke-width="1"/>
<text transform="translate(928.77 1137.4) scale(0.947 1)" font-size="17.6" text-anchor="middle" fill="#000">−24</text>
<line x1="985.5" y1="1116" x2="985.5" y2="1109.1" stroke="#000" stroke-width="1"/>
<line x1="985.5" y1="662" x2="985.5" y2="670.5" stroke="#000" stroke-width="1"/>
<text transform="translate(985.52 1137.4) scale(0.947 1)" font-size="17.6" text-anchor="middle" fill="#000">−22</text>
<line x1="1042.5" y1="1116" x2="1042.5" y2="1109.1" stroke="#000" stroke-width="1"/>
<line x1="1042.5" y1="662" x2="1042.5" y2="670.5" stroke="#000" stroke-width="1"/>
<text transform="translate(1042.28 1137.4) scale(0.947 1)" font-size="17.6" text-anchor="middle" fill="#000">−20</text>
<line x1="1098.5" y1="1116" x2="1098.5" y2="1109.1" stroke="#000" stroke-width="1"/>
<line x1="1098.5" y1="662" x2="1098.5" y2="670.5" stroke="#000" stroke-width="1"/>
<text transform="translate(1099.03 1137.4) scale(0.947 1)" font-size="17.6" text-anchor="middle" fill="#000">−18</text>
<text transform="translate(664 666.6) scale(0.947 1)" font-size="17.6" text-anchor="end" fill="#000">32</text>
<line x1="673" y1="719.5" x2="681.5" y2="719.5" stroke="#000" stroke-width="1"/>
<line x1="1127" y1="719.5" x2="1119.4" y2="719.5" stroke="#000" stroke-width="1"/>
<text transform="translate(664 723.35) scale(0.947 1)" font-size="17.6" text-anchor="end" fill="#000">30</text>
<line x1="673" y1="776.5" x2="681.5" y2="776.5" stroke="#000" stroke-width="1"/>
<line x1="1127" y1="776.5" x2="1119.4" y2="776.5" stroke="#000" stroke-width="1"/>
<text transform="translate(664 780.1) scale(0.947 1)" font-size="17.6" text-anchor="end" fill="#000">28</text>
<line x1="673" y1="833.5" x2="681.5" y2="833.5" stroke="#000" stroke-width="1"/>
<line x1="1127" y1="833.5" x2="1119.4" y2="833.5" stroke="#000" stroke-width="1"/>
<text transform="translate(664 836.85) scale(0.947 1)" font-size="17.6" text-anchor="end" fill="#000">26</text>
<line x1="673" y1="889.5" x2="681.5" y2="889.5" stroke="#000" stroke-width="1"/>
<line x1="1127" y1="889.5" x2="1119.4" y2="889.5" stroke="#000" stroke-width="1"/>
<text transform="translate(664 893.6) scale(0.947 1)" font-size="17.6" text-anchor="end" fill="#000">24</text>
<line x1="673" y1="946.5" x2="681.5" y2="946.5" stroke="#000" stroke-width="1"/>
<line x1="1127" y1="946.5" x2="1119.4" y2="946.5" stroke="#000" stroke-width="1"/>
<text transform="translate(664 950.35) scale(0.947 1)" font-size="17.6" text-anchor="end" fill="#000">22</text>
<line x1="673" y1="1003.5" x2="681.5" y2="1003.5" stroke="#000" stroke-width="1"/>
<line x1="1127" y1="1003.5" x2="1119.4" y2="1003.5" stroke="#000" stroke-width="1"/>
<text transform="translate(664 1007.1) scale(0.947 1)" font-size="17.6" text-anchor="end" fill="#000">20</text>
<line x1="673" y1="1060.5" x2="681.5" y2="1060.5" stroke="#000" stroke-width="1"/>
<line x1="1127" y1="1060.5" x2="1119.4" y2="1060.5" stroke="#000" stroke-width="1"/>
<text transform="translate(664 1063.85) scale(0.947 1)" font-size="17.6" text-anchor="end" fill="#000">18</text>
<text transform="translate(664 1120.6) scale(0.947 1)" font-size="17.6" text-anchor="end" fill="#000">16</text>
<text x="900.5" y="650" font-size="22.9" text-anchor="middle">Hodogram (V2_V1 MVAV<tspan font-family='"DejaVu Serif", "Liberation Serif", serif' font-style="italic" font-size="15.2" dy="5" textLength="79" lengthAdjust="spacingAndGlyphs">remaining</tspan><tspan dy="-5"> frame)</tspan></text>
<text transform="translate(900 1166.6) scale(0.947 1)" font-size="17.6" text-anchor="middle" fill="#000">V2(km/s)</text>
<text transform="translate(625.2 891) rotate(-90) scale(0.947 1)" font-size="17.6" text-anchor="middle">V1(km/s)</text>
<text y="1092" font-size="19.5" text-anchor="start"><tspan x="685" font-family='"DejaVu Serif", "Liberation Serif", serif' font-style="italic">λ</tspan><tspan x="695.6" dy="3.6" font-size="12.5" font-family='"DejaVu Serif", "Liberation Serif", serif'>1</tspan><tspan x="704" dy="-2.2" font-size="21" font-family='"DejaVu Serif", "Liberation Serif", serif'>/</tspan><tspan x="713.2" dy="-1.4" font-family='"DejaVu Serif", "Liberation Serif", serif' font-style="italic">λ</tspan><tspan x="723.4" dy="3.6" font-size="12.5" font-family='"DejaVu Serif", "Liberation Serif", serif'>2</tspan><tspan x="734.8" dy="-3.6" font-size="20" font-family='"DejaVu Serif", "Liberation Serif", serif'>≈</tspan></text>
<text transform="translate(756.4 1092) scale(0.963 1)" font-size="19.4" text-anchor="start" fill="#000">2.82</text>
<clipPath id="c6"><rect x="1229" y="662" width="454" height="454"/></clipPath>
<g clip-path="url(#c6)">
<polyline fill="none" stroke="#0000ff" stroke-width="2" stroke-linejoin="round" points="1446.2,1103.2 1431.34,854.14 1437.45,815.98 1447.5,854.41 1440.44,766.4 1456.47,851.29 1452.39,759.07 1448.59,667.66 1475.48,934.28 1504.55,842.33 1467.61,784.47 1419.39,759.07 1438.4,960.36 1440.44,849.39 1412.33,952.21 1416.4,913.23 1427.13,768.44 1417.35,778.35"/>
<circle cx="1446.2" cy="1103.2" r="3.3" fill="#0000ff"/>
<circle cx="1431.34" cy="854.14" r="3.3" fill="#0000ff"/>
<circle cx="1437.45" cy="815.98" r="3.3" fill="#0000ff"/>
<circle cx="1447.5" cy="854.41" r="3.3" fill="#0000ff"/>
<circle cx="1440.44" cy="766.4" r="3.3" fill="#0000ff"/>
<circle cx="1456.47" cy="851.29" r="3.3" fill="#0000ff"/>
<circle cx="1452.39" cy="759.07" r="3.3" fill="#0000ff"/>
<circle cx="1448.59" cy="667.66" r="3.3" fill="#0000ff"/>
<circle cx="1475.48" cy="934.28" r="3.3" fill="#0000ff"/>
<circle cx="1504.55" cy="842.33" r="3.3" fill="#0000ff"/>
<circle cx="1467.61" cy="784.47" r="3.3" fill="#0000ff"/>
<circle cx="1419.39" cy="759.07" r="3.3" fill="#0000ff"/>
<circle cx="1438.4" cy="960.36" r="3.3" fill="#0000ff"/>
<circle cx="1440.44" cy="849.39" r="3.3" fill="#0000ff"/>
<circle cx="1412.33" cy="952.21" r="3.3" fill="#0000ff"/>
<circle cx="1416.4" cy="913.23" r="3.3" fill="#0000ff"/>
<circle cx="1427.13" cy="768.44" r="3.3" fill="#0000ff"/>
<circle cx="1417.35" cy="778.35" r="3.3" fill="#0000ff"/>
</g>
<line x1="1279.5" y1="1116" x2="1279.5" y2="662" stroke="#000" stroke-width="1" stroke-dasharray="2.08 6.25"/>
<line x1="1335.5" y1="1116" x2="1335.5" y2="662" stroke="#000" stroke-width="1" stroke-dasharray="2.08 6.25"/>
<line x1="1392.5" y1="1116" x2="1392.5" y2="662" stroke="#000" stroke-width="1" stroke-dasharray="2.08 6.25"/>
<line x1="1449.5" y1="1116" x2="1449.5" y2="662" stroke="#000" stroke-width="1" stroke-dasharray="2.08 6.25"/>
<line x1="1506.5" y1="1116" x2="1506.5" y2="662" stroke="#000" stroke-width="1" stroke-dasharray="2.08 6.25"/>
<line x1="1562.5" y1="1116" x2="1562.5" y2="662" stroke="#000" stroke-width="1" stroke-dasharray="2.08 6.25"/>
<line x1="1619.5" y1="1116" x2="1619.5" y2="662" stroke="#000" stroke-width="1" stroke-dasharray="2.08 6.25"/>
<line x1="1676.5" y1="1116" x2="1676.5" y2="662" stroke="#000" stroke-width="1" stroke-dasharray="2.08 6.25"/>
<line x1="1229" y1="1060.5" x2="1683" y2="1060.5" stroke="#000" stroke-width="1" stroke-dasharray="2.08 6.25"/>
<line x1="1229" y1="1003.5" x2="1683" y2="1003.5" stroke="#000" stroke-width="1" stroke-dasharray="2.08 6.25"/>
<line x1="1229" y1="946.5" x2="1683" y2="946.5" stroke="#000" stroke-width="1" stroke-dasharray="2.08 6.25"/>
<line x1="1229" y1="889.5" x2="1683" y2="889.5" stroke="#000" stroke-width="1" stroke-dasharray="2.08 6.25"/>
<line x1="1229" y1="833.5" x2="1683" y2="833.5" stroke="#000" stroke-width="1" stroke-dasharray="2.08 6.25"/>
<line x1="1229" y1="776.5" x2="1683" y2="776.5" stroke="#000" stroke-width="1" stroke-dasharray="2.08 6.25"/>
<line x1="1229" y1="719.5" x2="1683" y2="719.5" stroke="#000" stroke-width="1" stroke-dasharray="2.08 6.25"/>
<rect x="1229" y="662" width="454" height="454" fill="none" stroke="#000" stroke-width="2"/>
<line x1="1279.5" y1="1116" x2="1279.5" y2="1109.1" stroke="#000" stroke-width="1"/>
<line x1="1279.5" y1="662" x2="1279.5" y2="670.5" stroke="#000" stroke-width="1"/>
<text transform="translate(1279.2 1137.4) scale(0.947 1)" font-size="17.6" text-anchor="middle" fill="#000">−34</text>
<line x1="1335.5" y1="1116" x2="1335.5" y2="1109.1" stroke="#000" stroke-width="1"/>
<line x1="1335.5" y1="662" x2="1335.5" y2="670.5" stroke="#000" stroke-width="1"/>
<text transform="translate(1335.95 1137.4) scale(0.947 1)" font-size="17.6" text-anchor="middle" fill="#000">−32</text>
<line x1="1392.5" y1="1116" x2="1392.5" y2="1109.1" stroke="#000" stroke-width="1"/>
<line x1="1392.5" y1="662" x2="1392.5" y2="670.5" stroke="#000" stroke-width="1"/>
<text transform="translate(1392.7 1137.4) scale(0.947 1)" font-size="17.6" text-anchor="middle" fill="#000">−30</text>
<line x1="1449.5" y1="1116" x2="1449.5" y2="1109.1" stroke="#000" stroke-width="1"/>
<line x1="1449.5" y1="662" x2="1449.5" y2="670.5" stroke="#000" stroke-width="1"/>
<text transform="translate(1449.45 1137.4) scale(0.947 1)" font-size="17.6" text-anchor="middle" fill="#000">−28</text>
<line x1="1506.5" y1="1116" x2="1506.5" y2="1109.1" stroke="#000" stroke-width="1"/>
<line x1="1506.5" y1="662" x2="1506.5" y2="670.5" stroke="#000" stroke-width="1"/>
<text transform="translate(1506.2 1137.4) scale(0.947 1)" font-size="17.6" text-anchor="middle" fill="#000">−26</text>
<line x1="1562.5" y1="1116" x2="1562.5" y2="1109.1" stroke="#000" stroke-width="1"/>
<line x1="1562.5" y1="662" x2="1562.5" y2="670.5" stroke="#000" stroke-width="1"/>
<text transform="translate(1562.95 1137.4) scale(0.947 1)" font-size="17.6" text-anchor="middle" fill="#000">−24</text>
<line x1="1619.5" y1="1116" x2="1619.5" y2="1109.1" stroke="#000" stroke-width="1"/>
<line x1="1619.5" y1="662" x2="1619.5" y2="670.5" stroke="#000" stroke-width="1"/>
<text transform="translate(1619.7 1137.4) scale(0.947 1)" font-size="17.6" text-anchor="middle" fill="#000">−22</text>
<line x1="1676.5" y1="1116" x2="1676.5" y2="1109.1" stroke="#000" stroke-width="1"/>
<line x1="1676.5" y1="662" x2="1676.5" y2="670.5" stroke="#000" stroke-width="1"/>
<text transform="translate(1676.45 1137.4) scale(0.947 1)" font-size="17.6" text-anchor="middle" fill="#000">−20</text>
<text transform="translate(1220 666.6) scale(0.947 1)" font-size="17.6" text-anchor="end" fill="#000">32</text>
<line x1="1229" y1="719.5" x2="1237.5" y2="719.5" stroke="#000" stroke-width="1"/>
<line x1="1683" y1="719.5" x2="1675.4" y2="719.5" stroke="#000" stroke-width="1"/>
<text transform="translate(1220 723.35) scale(0.947 1)" font-size="17.6" text-anchor="end" fill="#000">30</text>
<line x1="1229" y1="776.5" x2="1237.5" y2="776.5" stroke="#000" stroke-width="1"/>
<line x1="1683" y1="776.5" x2="1675.4" y2="776.5" stroke="#000" stroke-width="1"/>
<text transform="translate(1220 780.1) scale(0.947 1)" font-size="17.6" text-anchor="end" fill="#000">28</text>
<line x1="1229" y1="833.5" x2="1237.5" y2="833.5" stroke="#000" stroke-width="1"/>
<line x1="1683" y1="833.5" x2="1675.4" y2="833.5" stroke="#000" stroke-width="1"/>
<text transform="translate(1220 836.85) scale(0.947 1)" font-size="17.6" text-anchor="end" fill="#000">26</text>
<line x1="1229" y1="889.5" x2="1237.5" y2="889.5" stroke="#000" stroke-width="1"/>
<line x1="1683" y1="889.5" x2="1675.4" y2="889.5" stroke="#000" stroke-width="1"/>
<text transform="translate(1220 893.6) scale(0.947 1)" font-size="17.6" text-anchor="end" fill="#000">24</text>
<line x1="1229" y1="946.5" x2="1237.5" y2="946.5" stroke="#000" stroke-width="1"/>
<line x1="1683" y1="946.5" x2="1675.4" y2="946.5" stroke="#000" stroke-width="1"/>
<text transform="translate(1220 950.35) scale(0.947 1)" font-size="17.6" text-anchor="end" fill="#000">22</text>
<line x1="1229" y1="1003.5" x2="1237.5" y2="1003.5" stroke="#000" stroke-width="1"/>
<line x1="1683" y1="1003.5" x2="1675.4" y2="1003.5" stroke="#000" stroke-width="1"/>
<text transform="translate(1220 1007.1) scale(0.947 1)" font-size="17.6" text-anchor="end" fill="#000">20</text>
<line x1="1229" y1="1060.5" x2="1237.5" y2="1060.5" stroke="#000" stroke-width="1"/>
<line x1="1683" y1="1060.5" x2="1675.4" y2="1060.5" stroke="#000" stroke-width="1"/>
<text transform="translate(1220 1063.85) scale(0.947 1)" font-size="17.6" text-anchor="end" fill="#000">18</text>
<text transform="translate(1220 1120.6) scale(0.947 1)" font-size="17.6" text-anchor="end" fill="#000">16</text>
<text x="1456.5" y="650" font-size="22.9" text-anchor="middle">Hodogram (V3_V1 MVAV<tspan font-family='"DejaVu Serif", "Liberation Serif", serif' font-style="italic" font-size="15.2" dy="5" textLength="79" lengthAdjust="spacingAndGlyphs">remaining</tspan><tspan dy="-5"> frame)</tspan></text>
<text transform="translate(1456 1166.6) scale(0.947 1)" font-size="17.6" text-anchor="middle" fill="#000">V3(km/s)</text>
<text transform="translate(1170.4 891) rotate(-90) scale(0.947 1)" font-size="17.6" text-anchor="middle">V1(km/s)</text>
<text y="1092" font-size="19.5" text-anchor="start"><tspan x="1261" font-family='"DejaVu Serif", "Liberation Serif", serif' font-style="italic">λ</tspan><tspan x="1271.6" dy="3.6" font-size="12.5" font-family='"DejaVu Serif", "Liberation Serif", serif'>1</tspan><tspan x="1280" dy="-2.2" font-size="21" font-family='"DejaVu Serif", "Liberation Serif", serif'>/</tspan><tspan x="1289.2" dy="-1.4" font-family='"DejaVu Serif", "Liberation Serif", serif' font-style="italic">λ</tspan><tspan x="1299.4" dy="3.6" font-size="12.5" font-family='"DejaVu Serif", "Liberation Serif", serif'>3</tspan><tspan x="1310.8" dy="-3.6" font-size="20" font-family='"DejaVu Serif", "Liberation Serif", serif'>≈</tspan></text>
<text transform="translate(1332.4 1092) scale(0.963 1)" font-size="19.4" text-anchor="start" fill="#000">18.72</text>
<clipPath id="c7"><rect x="117" y="1305" width="1566" height="222"/></clipPath>
<g clip-path="url(#c7)">
<line x1="117" y1="1464.5" x2="1683" y2="1464.5" stroke="#000" stroke-width="1" stroke-dasharray="12.5 12.5"/>
<polyline fill="none" stroke="#ff0000" stroke-width="2" stroke-linejoin="round" points="117,1332.27 209.12,1332.91 301.24,1333.54 393.35,1334.81 485.47,1335.45 577.59,1336.08 669.71,1336.71 761.82,1337.67 853.94,1337.03 946.06,1338.3 1038.18,1336.71 1130.29,1334.18 1222.41,1333.54 1314.53,1333.86 1406.65,1334.81 1498.76,1336.08 1590.88,1334.81 1683,1334.18"/>
<polyline fill="none" stroke="#008000" stroke-width="2" stroke-linejoin="round" points="117,1515.58 209.12,1518.75 301.24,1520.02 393.35,1520.66 485.47,1520.02 577.59,1520.34 669.71,1519.39 761.82,1518.44 853.94,1518.12 946.06,1516.22 1038.18,1515.58 1130.29,1517.49 1222.41,1515.58 1314.53,1515.58 1406.65,1516.22 1498.76,1518.12 1590.88,1518.12 1683,1516.22"/>
<polyline fill="none" stroke="#0000ff" stroke-width="2" stroke-linejoin="round" points="117,1314.51 209.12,1315.15 301.24,1315.15 393.35,1314.51 485.47,1313.88 577.59,1313.25 669.71,1312.61 761.82,1311.34 853.94,1311.98 946.06,1310.71 1038.18,1311.34 1130.29,1313.25 1222.41,1313.25 1314.53,1313.88 1406.65,1313.25 1498.76,1313.25 1590.88,1313.88 1683,1314.51"/>
</g>
<rect x="117" y="1305" width="1566" height="222" fill="none" stroke="#000" stroke-width="2"/>
<line x1="393.5" y1="1527" x2="393.5" y2="1520.1" stroke="#000" stroke-width="1"/>
<line x1="393.5" y1="1305" x2="393.5" y2="1313.5" stroke="#000" stroke-width="1"/>
<text transform="translate(393.75 1550.3) scale(0.947 1)" font-size="17.6" text-anchor="middle" fill="#000">01/23 04:15:31</text>
<line x1="854.5" y1="1527" x2="854.5" y2="1520.1" stroke="#000" stroke-width="1"/>
<line x1="854.5" y1="1305" x2="854.5" y2="1313.5" stroke="#000" stroke-width="1"/>
<text transform="translate(854.34 1550.3) scale(0.947 1)" font-size="17.6" text-anchor="middle" fill="#000">01/23 04:15:36</text>
<line x1="1314.5" y1="1527" x2="1314.5" y2="1520.1" stroke="#000" stroke-width="1"/>
<line x1="1314.5" y1="1305" x2="1314.5" y2="1313.5" stroke="#000" stroke-width="1"/>
<text transform="translate(1314.93 1550.3) scale(0.947 1)" font-size="17.6" text-anchor="middle" fill="#000">01/23 04:15:41</text>
<text transform="translate(108 1309.6) scale(0.947 1)" font-size="17.6" text-anchor="end" fill="#000">25</text>
<line x1="117" y1="1337.5" x2="125.5" y2="1337.5" stroke="#000" stroke-width="1"/>
<line x1="1683" y1="1337.5" x2="1675.4" y2="1337.5" stroke="#000" stroke-width="1"/>
<text transform="translate(108 1341.31) scale(0.947 1)" font-size="17.6" text-anchor="end" fill="#000">20</text>
<line x1="117" y1="1369.5" x2="125.5" y2="1369.5" stroke="#000" stroke-width="1"/>
<line x1="1683" y1="1369.5" x2="1675.4" y2="1369.5" stroke="#000" stroke-width="1"/>
<text transform="translate(108 1373.03) scale(0.947 1)" font-size="17.6" text-anchor="end" fill="#000">15</text>
<line x1="117" y1="1400.5" x2="125.5" y2="1400.5" stroke="#000" stroke-width="1"/>
<line x1="1683" y1="1400.5" x2="1675.4" y2="1400.5" stroke="#000" stroke-width="1"/>
<text transform="translate(108 1404.74) scale(0.947 1)" font-size="17.6" text-anchor="end" fill="#000">10</text>
<line x1="117" y1="1432.5" x2="125.5" y2="1432.5" stroke="#000" stroke-width="1"/>
<line x1="1683" y1="1432.5" x2="1675.4" y2="1432.5" stroke="#000" stroke-width="1"/>
<text transform="translate(108 1436.46) scale(0.947 1)" font-size="17.6" text-anchor="end" fill="#000">5</text>
<line x1="117" y1="1464.5" x2="125.5" y2="1464.5" stroke="#000" stroke-width="1"/>
<line x1="1683" y1="1464.5" x2="1675.4" y2="1464.5" stroke="#000" stroke-width="1"/>
<text transform="translate(108 1468.17) scale(0.947 1)" font-size="17.6" text-anchor="end" fill="#000">0</text>
<line x1="117" y1="1496.5" x2="125.5" y2="1496.5" stroke="#000" stroke-width="1"/>
<line x1="1683" y1="1496.5" x2="1675.4" y2="1496.5" stroke="#000" stroke-width="1"/>
<text transform="translate(108 1499.89) scale(0.947 1)" font-size="17.6" text-anchor="end" fill="#000">−5</text>
<text transform="translate(108 1531.6) scale(0.947 1)" font-size="17.6" text-anchor="end" fill="#000">−10</text>
<text x="900" y="1295" font-size="23.3" text-anchor="middle">Magnetic Field (RTN Frame)</text>
<text transform="translate(59.9 1418.9) rotate(-90) scale(0.947 1)" font-size="17.6" text-anchor="middle">B(nT)</text>
<rect x="1604" y="1312" width="72" height="71.7" fill="#fff" stroke="#000" stroke-width="2"/>
<line x1="1613" y1="1325" x2="1635.2" y2="1325" stroke="#ff0000" stroke-width="2"/>
<text transform="translate(1652 1329.8) scale(0.82 1)" font-size="16" text-anchor="start" fill="#000">Br</text>
<line x1="1613" y1="1347" x2="1635.2" y2="1347" stroke="#008000" stroke-width="2"/>
<text transform="translate(1652 1351.8) scale(0.82 1)" font-size="16" text-anchor="start" fill="#000">Bt</text>
<line x1="1613" y1="1370" x2="1635.2" y2="1370" stroke="#0000ff" stroke-width="2"/>
<text transform="translate(1652 1374.8) scale(0.82 1)" font-size="16" text-anchor="start" fill="#000">Bn</text>
<clipPath id="c8"><rect x="117" y="1639" width="1566" height="222"/></clipPath>
<g clip-path="url(#c8)">
<polyline fill="none" stroke="#ff0000" stroke-width="2" stroke-linejoin="round" points="117,1847.31 209.12,1846.94 301.24,1846.57 393.35,1845.46 485.47,1845.09 577.59,1844.35 669.71,1843.98 761.82,1843.61 853.94,1843.98 946.06,1843.24 1038.18,1844.35 1130.29,1846.2 1222.41,1846.94 1314.53,1846.94 1406.65,1846.2 1498.76,1845.46 1590.88,1846.2 1683,1846.2"/>
<polyline fill="none" stroke="#008000" stroke-width="2" stroke-linejoin="round" points="117,1788.48 209.12,1786.26 301.24,1785.52 393.35,1785.15 485.47,1785.15 577.59,1785.52 669.71,1785.89 761.82,1786.26 853.94,1786.26 946.06,1787.74 1038.18,1788.11 1130.29,1786.63 1222.41,1787.74 1314.53,1787.74 1406.65,1787.37 1498.76,1786.26 1590.88,1786.63 1683,1787.74"/>
<polyline fill="none" stroke="#0000ff" stroke-width="2" stroke-linejoin="round" points="117,1683.4 209.12,1683.03 301.24,1683.03 393.35,1682.66 485.47,1682.29 577.59,1682.29 669.71,1681.92 761.82,1681.55 853.94,1681.92 946.06,1681.18 1038.18,1681.92 1130.29,1682.66 1222.41,1683.03 1314.53,1683.03 1406.65,1682.66 1498.76,1682.29 1590.88,1682.66 1683,1683.03"/>
<polyline fill="none" stroke="#000" stroke-width="2" stroke-linejoin="round" points="117,1667.49 209.12,1667.49 301.24,1667.49 393.35,1667.49 485.47,1667.49 577.59,1667.49 669.71,1667.49 761.82,1667.49 853.94,1667.49 946.06,1667.49 1038.18,1667.49 1130.29,1667.49 1222.41,1667.49 1314.53,1667.49 1406.65,1667.49 1498.76,1667.49 1590.88,1667.49 1683,1667.49"/>
<line x1="117" y1="1787.5" x2="1683" y2="1787.5" stroke="#000" stroke-width="1" stroke-dasharray="12.5 12.5"/>
</g>
<rect x="117" y="1639" width="1566" height="222" fill="none" stroke="#000" stroke-width="2"/>
<line x1="393.5" y1="1861" x2="393.5" y2="1854.1" stroke="#000" stroke-width="1"/>
<line x1="393.5" y1="1639" x2="393.5" y2="1647.5" stroke="#000" stroke-width="1"/>
<text transform="translate(393.75 1884.3) scale(0.947 1)" font-size="17.6" text-anchor="middle" fill="#000">01/23 04:15:31</text>
<line x1="854.5" y1="1861" x2="854.5" y2="1854.1" stroke="#000" stroke-width="1"/>
<line x1="854.5" y1="1639" x2="854.5" y2="1647.5" stroke="#000" stroke-width="1"/>
<text transform="translate(854.34 1884.3) scale(0.947 1)" font-size="17.6" text-anchor="middle" fill="#000">01/23 04:15:36</text>
<line x1="1314.5" y1="1861" x2="1314.5" y2="1854.1" stroke="#000" stroke-width="1"/>
<line x1="1314.5" y1="1639" x2="1314.5" y2="1647.5" stroke="#000" stroke-width="1"/>
<text transform="translate(1314.93 1884.3) scale(0.947 1)" font-size="17.6" text-anchor="middle" fill="#000">01/23 04:15:41</text>
<text transform="translate(108 1643.6) scale(0.947 1)" font-size="17.6" text-anchor="end" fill="#000">40</text>
<line x1="117" y1="1676.5" x2="125.5" y2="1676.5" stroke="#000" stroke-width="1"/>
<line x1="1683" y1="1676.5" x2="1675.4" y2="1676.5" stroke="#000" stroke-width="1"/>
<text transform="translate(108 1680.6) scale(0.947 1)" font-size="17.6" text-anchor="end" fill="#000">30</text>
<line x1="117" y1="1713.5" x2="125.5" y2="1713.5" stroke="#000" stroke-width="1"/>
<line x1="1683" y1="1713.5" x2="1675.4" y2="1713.5" stroke="#000" stroke-width="1"/>
<text transform="translate(108 1717.6) scale(0.947 1)" font-size="17.6" text-anchor="end" fill="#000">20</text>
<line x1="117" y1="1750.5" x2="125.5" y2="1750.5" stroke="#000" stroke-width="1"/>
<line x1="1683" y1="1750.5" x2="1675.4" y2="1750.5" stroke="#000" stroke-width="1"/>
<text transform="translate(108 1754.6) scale(0.947 1)" font-size="17.6" text-anchor="end" fill="#000">10</text>
<line x1="117" y1="1787.5" x2="125.5" y2="1787.5" stroke="#000" stroke-width="1"/>
<line x1="1683" y1="1787.5" x2="1675.4" y2="1787.5" stroke="#000" stroke-width="1"/>
<text transform="translate(108 1791.6) scale(0.947 1)" font-size="17.6" text-anchor="end" fill="#000">0</text>
<line x1="117" y1="1824.5" x2="125.5" y2="1824.5" stroke="#000" stroke-width="1"/>
<line x1="1683" y1="1824.5" x2="1675.4" y2="1824.5" stroke="#000" stroke-width="1"/>
<text transform="translate(108 1828.6) scale(0.947 1)" font-size="17.6" text-anchor="end" fill="#000">−10</text>
<text transform="translate(108 1865.6) scale(0.947 1)" font-size="17.6" text-anchor="end" fill="#000">−20</text>
<text x="900" y="1629" font-size="23.3" text-anchor="middle">Magnetic Field (Flux Rope Frame)</text>
<text transform="translate(59.9 1752.9) rotate(-90) scale(0.947 1)" font-size="17.6" text-anchor="middle">B(nT)</text>
<rect x="1601.3" y="1646.2" width="74.7" height="93.7" fill="#fff" stroke="#000" stroke-width="2"/>
<line x1="1610.3" y1="1658.9" x2="1632.5" y2="1658.9" stroke="#ff0000" stroke-width="2"/>
<text transform="translate(1648.6 1663.7) scale(0.82 1)" font-size="16" text-anchor="start" fill="#000">Bx'</text>
<line x1="1610.3" y1="1681" x2="1632.5" y2="1681" stroke="#008000" stroke-width="2"/>
<text transform="translate(1648.6 1685.8) scale(0.82 1)" font-size="16" text-anchor="start" fill="#000">By'</text>
<line x1="1610.3" y1="1702.8" x2="1632.5" y2="1702.8" stroke="#0000ff" stroke-width="2"/>
<text transform="translate(1648.6 1707.6) scale(0.82 1)" font-size="16" text-anchor="start" fill="#000">Bz'</text>
<line x1="1610.3" y1="1724.8" x2="1632.5" y2="1724.8" stroke="#000" stroke-width="2"/>
<text transform="translate(1648.6 1729.6) scale(0.82 1)" font-size="16" text-anchor="start" fill="#000">|B|</text>
<clipPath id="c9"><rect x="117" y="1972" width="1566" height="222"/></clipPath>
<g clip-path="url(#c9)">
<polyline fill="none" stroke="#ff0000" stroke-width="2" stroke-linejoin="round" points="117,1995.31 209.12,1995.46 301.24,1995.12 393.35,1995.09 485.47,1994.87 577.59,1995.01 669.71,1994.94 761.82,1994.87 853.94,1994.57 946.06,1994.72 1038.18,1994.79 1130.29,1994.94 1222.41,1994.72 1314.53,1994.79 1406.65,1994.87 1498.76,1994.79 1590.88,1994.57 1683,1994.46"/>
<polyline fill="none" stroke="#008000" stroke-width="2" stroke-linejoin="round" points="117,2174.02 209.12,2172.17 301.24,2170.69 393.35,2171.43 485.47,2169.58 577.59,2171.43 669.71,2170.69 761.82,2169.95 853.94,2172.17 946.06,2171.8 1038.18,2170.69 1130.29,2170.32 1222.41,2172.91 1314.53,2172.17 1406.65,2172.17 1498.76,2172.17 1590.88,2171.06 1683,2170.69"/>
<polyline fill="none" stroke="#0000ff" stroke-width="2" stroke-linejoin="round" points="117,2147.75 209.12,2151.08 301.24,2149.23 393.35,2149.6 485.47,2148.49 577.59,2149.6 669.71,2150.71 761.82,2151.82 853.94,2149.23 946.06,2150.34 1038.18,2150.71 1130.29,2151.08 1222.41,2149.97 1314.53,2151.26 1406.65,2149.05 1498.76,2149.78 1590.88,2151.26 1683,2150.53"/>
</g>
<rect x="117" y="1972" width="1566" height="222" fill="none" stroke="#000" stroke-width="2"/>
<line x1="393.5" y1="2194" x2="393.5" y2="2187.1" stroke="#000" stroke-width="1"/>
<line x1="393.5" y1="1972" x2="393.5" y2="1980.5" stroke="#000" stroke-width="1"/>
<text transform="translate(393.75 2217.3) scale(0.947 1)" font-size="17.6" text-anchor="middle" fill="#000">01/23 04:15:31</text>
<line x1="854.5" y1="2194" x2="854.5" y2="2187.1" stroke="#000" stroke-width="1"/>
<line x1="854.5" y1="1972" x2="854.5" y2="1980.5" stroke="#000" stroke-width="1"/>
<text transform="translate(854.34 2217.3) scale(0.947 1)" font-size="17.6" text-anchor="middle" fill="#000">01/23 04:15:36</text>
<line x1="1314.5" y1="2194" x2="1314.5" y2="2187.1" stroke="#000" stroke-width="1"/>
<line x1="1314.5" y1="1972" x2="1314.5" y2="1980.5" stroke="#000" stroke-width="1"/>
<text transform="translate(1314.93 2217.3) scale(0.947 1)" font-size="17.6" text-anchor="middle" fill="#000">01/23 04:15:41</text>
<text transform="translate(108 1976.6) scale(0.947 1)" font-size="17.6" text-anchor="end" fill="#000">500</text>
<line x1="117" y1="2009.5" x2="125.5" y2="2009.5" stroke="#000" stroke-width="1"/>
<line x1="1683" y1="2009.5" x2="1675.4" y2="2009.5" stroke="#000" stroke-width="1"/>
<text transform="translate(108 2013.6) scale(0.947 1)" font-size="17.6" text-anchor="end" fill="#000">400</text>
<line x1="117" y1="2046.5" x2="125.5" y2="2046.5" stroke="#000" stroke-width="1"/>
<line x1="1683" y1="2046.5" x2="1675.4" y2="2046.5" stroke="#000" stroke-width="1"/>
<text transform="translate(108 2050.6) scale(0.947 1)" font-size="17.6" text-anchor="end" fill="#000">300</text>
<line x1="117" y1="2083.5" x2="125.5" y2="2083.5" stroke="#000" stroke-width="1"/>
<line x1="1683" y1="2083.5" x2="1675.4" y2="2083.5" stroke="#000" stroke-width="1"/>
<text transform="translate(108 2087.6) scale(0.947 1)" font-size="17.6" text-anchor="end" fill="#000">200</text>
<line x1="117" y1="2120.5" x2="125.5" y2="2120.5" stroke="#000" stroke-width="1"/>
<line x1="1683" y1="2120.5" x2="1675.4" y2="2120.5" stroke="#000" stroke-width="1"/>
<text transform="translate(108 2124.6) scale(0.947 1)" font-size="17.6" text-anchor="end" fill="#000">100</text>
<line x1="117" y1="2157.5" x2="125.5" y2="2157.5" stroke="#000" stroke-width="1"/>
<line x1="1683" y1="2157.5" x2="1675.4" y2="2157.5" stroke="#000" stroke-width="1"/>
<text transform="translate(108 2161.6) scale(0.947 1)" font-size="17.6" text-anchor="end" fill="#000">0</text>
<text transform="translate(108 2198.6) scale(0.947 1)" font-size="17.6" text-anchor="end" fill="#000">−100</text>
<text x="900" y="1962" font-size="23.3" text-anchor="middle">Solar Wind Velocity (RTN Frame)</text>
<text transform="translate(48 2084.8) rotate(-90) scale(0.947 1)" font-size="17.6" text-anchor="middle">Vsw(km/s)</text>
<rect x="1604" y="1979" width="72" height="71.7" fill="#fff" stroke="#000" stroke-width="2"/>
<line x1="1613" y1="1992" x2="1635.2" y2="1992" stroke="#ff0000" stroke-width="2"/>
<text transform="translate(1651.2 1996.8) scale(0.82 1)" font-size="16" text-anchor="start" fill="#000">Vr</text>
<line x1="1613" y1="2014" x2="1635.2" y2="2014" stroke="#008000" stroke-width="2"/>
<text transform="translate(1651.2 2018.8) scale(0.82 1)" font-size="16" text-anchor="start" fill="#000">Vt</text>
<line x1="1613" y1="2037" x2="1635.2" y2="2037" stroke="#0000ff" stroke-width="2"/>
<text transform="translate(1651.2 2041.8) scale(0.82 1)" font-size="16" text-anchor="start" fill="#000">Vn</text>
<clipPath id="c10"><rect x="117" y="2306" width="1566" height="222"/></clipPath>
<g clip-path="url(#c10)">
<polyline fill="none" stroke="#0000ff" stroke-width="2" stroke-linejoin="round" points="117,2490 209.12,2450.3 301.24,2370.8 393.35,2326 485.47,2392.6 577.59,2519.4 669.71,2446.4 761.82,2373.4 853.94,2390.7 946.06,2335.6 1038.18,2413.1 1130.29,2349.7 1222.41,2443.9 1314.53,2422.7 1406.65,2326 1498.76,2335 1590.88,2440 1683,2352.9"/>
</g>
<rect x="117" y="2306" width="1566" height="222" fill="none" stroke="#000" stroke-width="2"/>
<line x1="393.5" y1="2528" x2="393.5" y2="2521.1" stroke="#000" stroke-width="1"/>
<line x1="393.5" y1="2306" x2="393.5" y2="2314.5" stroke="#000" stroke-width="1"/>
<text transform="translate(393.75 2551.3) scale(0.947 1)" font-size="17.6" text-anchor="middle" fill="#000">01/23 04:15:31</text>
<line x1="854.5" y1="2528" x2="854.5" y2="2521.1" stroke="#000" stroke-width="1"/>
<line x1="854.5" y1="2306" x2="854.5" y2="2314.5" stroke="#000" stroke-width="1"/>
<text transform="translate(854.34 2551.3) scale(0.947 1)" font-size="17.6" text-anchor="middle" fill="#000">01/23 04:15:36</text>
<line x1="1314.5" y1="2528" x2="1314.5" y2="2521.1" stroke="#000" stroke-width="1"/>
<line x1="1314.5" y1="2306" x2="1314.5" y2="2314.5" stroke="#000" stroke-width="1"/>
<text transform="translate(1314.93 2551.3) scale(0.947 1)" font-size="17.6" text-anchor="middle" fill="#000">01/23 04:15:41</text>
<text transform="translate(108 2310.6) scale(0.947 1)" font-size="17.6" text-anchor="end" fill="#000">0.0230</text>
<line x1="117" y1="2333.5" x2="125.5" y2="2333.5" stroke="#000" stroke-width="1"/>
<line x1="1683" y1="2333.5" x2="1675.4" y2="2333.5" stroke="#000" stroke-width="1"/>
<text transform="translate(108 2338.35) scale(0.947 1)" font-size="17.6" text-anchor="end" fill="#000">0.0225</text>
<line x1="117" y1="2361.5" x2="125.5" y2="2361.5" stroke="#000" stroke-width="1"/>
<line x1="1683" y1="2361.5" x2="1675.4" y2="2361.5" stroke="#000" stroke-width="1"/>
<text transform="translate(108 2366.1) scale(0.947 1)" font-size="17.6" text-anchor="end" fill="#000">0.0220</text>
<line x1="117" y1="2389.5" x2="125.5" y2="2389.5" stroke="#000" stroke-width="1"/>
<line x1="1683" y1="2389.5" x2="1675.4" y2="2389.5" stroke="#000" stroke-width="1"/>
<text transform="translate(108 2393.85) scale(0.947 1)" font-size="17.6" text-anchor="end" fill="#000">0.0215</text>
<line x1="117" y1="2417.5" x2="125.5" y2="2417.5" stroke="#000" stroke-width="1"/>
<line x1="1683" y1="2417.5" x2="1675.4" y2="2417.5" stroke="#000" stroke-width="1"/>
<text transform="translate(108 2421.6) scale(0.947 1)" font-size="17.6" text-anchor="end" fill="#000">0.0210</text>
<line x1="117" y1="2444.5" x2="125.5" y2="2444.5" stroke="#000" stroke-width="1"/>
<line x1="1683" y1="2444.5" x2="1675.4" y2="2444.5" stroke="#000" stroke-width="1"/>
<text transform="translate(108 2449.35) scale(0.947 1)" font-size="17.6" text-anchor="end" fill="#000">0.0205</text>
<line x1="117" y1="2472.5" x2="125.5" y2="2472.5" stroke="#000" stroke-width="1"/>
<line x1="1683" y1="2472.5" x2="1675.4" y2="2472.5" stroke="#000" stroke-width="1"/>
<text transform="translate(108 2477.1) scale(0.947 1)" font-size="17.6" text-anchor="end" fill="#000">0.0200</text>
<line x1="117" y1="2500.5" x2="125.5" y2="2500.5" stroke="#000" stroke-width="1"/>
<line x1="1683" y1="2500.5" x2="1675.4" y2="2500.5" stroke="#000" stroke-width="1"/>
<text transform="translate(108 2504.85) scale(0.947 1)" font-size="17.6" text-anchor="end" fill="#000">0.0195</text>
<text transform="translate(108 2532.6) scale(0.947 1)" font-size="17.6" text-anchor="end" fill="#000">0.0190</text>
<text x="900" y="2295" font-size="23" text-anchor="middle">Plasma Beta</text>
<text transform="translate(30 2416.2) rotate(-90) scale(0.947 1)" font-size="17.6" text-anchor="middle"><tspan font-family='"DejaVu Serif", "Liberation Serif", serif' font-style="italic" font-size="13">β</tspan><tspan font-family='"DejaVu Serif", "Liberation Serif", serif' font-style="italic" font-size="9" dy="3">p</tspan></text>
<clipPath id="c11"><rect x="117" y="2639" width="1566" height="222"/></clipPath>
<g clip-path="url(#c11)">
<polyline fill="none" stroke="#0000ff" stroke-width="2" stroke-linejoin="round" points="117,2767.4 209.12,2744.4 301.24,2726.5 393.35,2746.3 485.47,2766.2 577.59,2825.7 669.71,2773.9 761.82,2722.6 853.94,2748.2 946.06,2752.1 1038.18,2736.1 1130.29,2702.1 1222.41,2743.7 1314.53,2731.6 1406.65,2663 1498.76,2688 1590.88,2713 1683,2704.7"/>
</g>
<rect x="117" y="2639" width="1566" height="222" fill="none" stroke="#000" stroke-width="2"/>
<line x1="393.5" y1="2861" x2="393.5" y2="2854.1" stroke="#000" stroke-width="1"/>
<line x1="393.5" y1="2639" x2="393.5" y2="2647.5" stroke="#000" stroke-width="1"/>
<text transform="translate(393.75 2884.3) scale(0.947 1)" font-size="17.6" text-anchor="middle" fill="#000">01/23 04:15:31</text>
<line x1="854.5" y1="2861" x2="854.5" y2="2854.1" stroke="#000" stroke-width="1"/>
<line x1="854.5" y1="2639" x2="854.5" y2="2647.5" stroke="#000" stroke-width="1"/>
<text transform="translate(854.34 2884.3) scale(0.947 1)" font-size="17.6" text-anchor="middle" fill="#000">01/23 04:15:36</text>
<line x1="1314.5" y1="2861" x2="1314.5" y2="2854.1" stroke="#000" stroke-width="1"/>
<line x1="1314.5" y1="2639" x2="1314.5" y2="2647.5" stroke="#000" stroke-width="1"/>
<text transform="translate(1314.93 2884.3) scale(0.947 1)" font-size="17.6" text-anchor="middle" fill="#000">01/23 04:15:41</text>
<text transform="translate(108 2643.6) scale(0.947 1)" font-size="17.6" text-anchor="end" fill="#000">29.5</text>
<line x1="117" y1="2676.5" x2="125.5" y2="2676.5" stroke="#000" stroke-width="1"/>
<line x1="1683" y1="2676.5" x2="1675.4" y2="2676.5" stroke="#000" stroke-width="1"/>
<text transform="translate(108 2680.6) scale(0.947 1)" font-size="17.6" text-anchor="end" fill="#000">29.0</text>
<line x1="117" y1="2713.5" x2="125.5" y2="2713.5" stroke="#000" stroke-width="1"/>
<line x1="1683" y1="2713.5" x2="1675.4" y2="2713.5" stroke="#000" stroke-width="1"/>
<text transform="translate(108 2717.6) scale(0.947 1)" font-size="17.6" text-anchor="end" fill="#000">28.5</text>
<line x1="117" y1="2750.5" x2="125.5" y2="2750.5" stroke="#000" stroke-width="1"/>
<line x1="1683" y1="2750.5" x2="1675.4" y2="2750.5" stroke="#000" stroke-width="1"/>
<text transform="translate(108 2754.6) scale(0.947 1)" font-size="17.6" text-anchor="end" fill="#000">28.0</text>
<line x1="117" y1="2787.5" x2="125.5" y2="2787.5" stroke="#000" stroke-width="1"/>
<line x1="1683" y1="2787.5" x2="1675.4" y2="2787.5" stroke="#000" stroke-width="1"/>
<text transform="translate(108 2791.6) scale(0.947 1)" font-size="17.6" text-anchor="end" fill="#000">27.5</text>
<line x1="117" y1="2824.5" x2="125.5" y2="2824.5" stroke="#000" stroke-width="1"/>
<line x1="1683" y1="2824.5" x2="1675.4" y2="2824.5" stroke="#000" stroke-width="1"/>
<text transform="translate(108 2828.6) scale(0.947 1)" font-size="17.6" text-anchor="end" fill="#000">27.0</text>
<text transform="translate(108 2865.6) scale(0.947 1)" font-size="17.6" text-anchor="end" fill="#000">26.5</text>
<text x="900" y="2629" font-size="23.3" text-anchor="middle">Proton Number Density</text>
<text transform="translate(59 2752.9) rotate(-90) scale(0.947 1)" font-size="17.6" text-anchor="middle">Np(#/cc)</text>
<clipPath id="c12"><rect x="117" y="2973" width="1566" height="222"/></clipPath>
<g clip-path="url(#c12)">
<polyline fill="none" stroke="#0000ff" stroke-width="2" stroke-linejoin="round" points="117,3172.4 209.12,3142.9 301.24,3058.4 393.35,2993 485.47,3059.7 577.59,3178.8 669.71,3123.1 761.82,3067.3 853.94,3073.7 946.06,3003.9 1038.18,3108.3 1130.29,3046.8 1222.41,3134.6 1314.53,3123.1 1406.65,3053.9 1498.76,3046.2 1590.88,3154.5 1683,3063.5"/>
</g>
<rect x="117" y="2973" width="1566" height="222" fill="none" stroke="#000" stroke-width="2"/>
<line x1="393.5" y1="3195" x2="393.5" y2="3188.1" stroke="#000" stroke-width="1"/>
<line x1="393.5" y1="2973" x2="393.5" y2="2981.5" stroke="#000" stroke-width="1"/>
<text transform="translate(393.75 3218.3) scale(0.947 1)" font-size="17.6" text-anchor="middle" fill="#000">01/23 04:15:31</text>
<line x1="854.5" y1="3195" x2="854.5" y2="3188.1" stroke="#000" stroke-width="1"/>
<line x1="854.5" y1="2973" x2="854.5" y2="2981.5" stroke="#000" stroke-width="1"/>
<text transform="translate(854.34 3218.3) scale(0.947 1)" font-size="17.6" text-anchor="middle" fill="#000">01/23 04:15:36</text>
<line x1="1314.5" y1="3195" x2="1314.5" y2="3188.1" stroke="#000" stroke-width="1"/>
<line x1="1314.5" y1="2973" x2="1314.5" y2="2981.5" stroke="#000" stroke-width="1"/>
<text transform="translate(1314.93 3218.3) scale(0.947 1)" font-size="17.6" text-anchor="middle" fill="#000">01/23 04:15:41</text>
<text transform="translate(108 2977.6) scale(0.947 1)" font-size="17.6" text-anchor="end" fill="#000">0.0245</text>
<line x1="117" y1="3004.5" x2="125.5" y2="3004.5" stroke="#000" stroke-width="1"/>
<line x1="1683" y1="3004.5" x2="1675.4" y2="3004.5" stroke="#000" stroke-width="1"/>
<text transform="translate(108 3009.31) scale(0.947 1)" font-size="17.6" text-anchor="end" fill="#000">0.0240</text>
<line x1="117" y1="3036.5" x2="125.5" y2="3036.5" stroke="#000" stroke-width="1"/>
<line x1="1683" y1="3036.5" x2="1675.4" y2="3036.5" stroke="#000" stroke-width="1"/>
<text transform="translate(108 3041.03) scale(0.947 1)" font-size="17.6" text-anchor="end" fill="#000">0.0235</text>
<line x1="117" y1="3068.5" x2="125.5" y2="3068.5" stroke="#000" stroke-width="1"/>
<line x1="1683" y1="3068.5" x2="1675.4" y2="3068.5" stroke="#000" stroke-width="1"/>
<text transform="translate(108 3072.74) scale(0.947 1)" font-size="17.6" text-anchor="end" fill="#000">0.0230</text>
<line x1="117" y1="3100.5" x2="125.5" y2="3100.5" stroke="#000" stroke-width="1"/>
<line x1="1683" y1="3100.5" x2="1675.4" y2="3100.5" stroke="#000" stroke-width="1"/>
<text transform="translate(108 3104.46) scale(0.947 1)" font-size="17.6" text-anchor="end" fill="#000">0.0225</text>
<line x1="117" y1="3131.5" x2="125.5" y2="3131.5" stroke="#000" stroke-width="1"/>
<line x1="1683" y1="3131.5" x2="1675.4" y2="3131.5" stroke="#000" stroke-width="1"/>
<text transform="translate(108 3136.17) scale(0.947 1)" font-size="17.6" text-anchor="end" fill="#000">0.0220</text>
<line x1="117" y1="3163.5" x2="125.5" y2="3163.5" stroke="#000" stroke-width="1"/>
<line x1="1683" y1="3163.5" x2="1675.4" y2="3163.5" stroke="#000" stroke-width="1"/>
<text transform="translate(108 3167.89) scale(0.947 1)" font-size="17.6" text-anchor="end" fill="#000">0.0215</text>
<text transform="translate(108 3199.6) scale(0.947 1)" font-size="17.6" text-anchor="end" fill="#000">0.0210</text>
<text x="900" y="2961" font-size="23.3" text-anchor="middle">Proton Temperature and <tspan font-family='"DejaVu Serif", "Liberation Serif", serif' font-style="italic" font-size="22.5">T</tspan><tspan font-family='"DejaVu Serif", "Liberation Serif", serif' font-style="italic" font-size="15" dy="4" dx="-1">e</tspan><tspan font-family='"DejaVu Serif", "Liberation Serif", serif' font-size="23" dy="-4" dx="1.5">/</tspan><tspan font-family='"DejaVu Serif", "Liberation Serif", serif' font-style="italic" font-size="22.5" dx="0.5">T</tspan><tspan font-family='"DejaVu Serif", "Liberation Serif", serif' font-style="italic" font-size="15" dy="4" dx="-1">p</tspan></text>
<text transform="translate(31 3084) rotate(-90) scale(0.947 1)" font-size="17.6" text-anchor="middle">Tp(<tspan font-family='"DejaVu Serif", "Liberation Serif", serif' font-size="15.5">10</tspan><tspan font-family='"DejaVu Serif", "Liberation Serif", serif' font-size="11" dy="-5.5">6</tspan><tspan dy="5.5">K)</tspan></text>
<rect x="124" y="2980" width="71.3" height="26.8" fill="#fff" stroke="#000" stroke-width="2"/>
<line x1="133" y1="2993.2" x2="155.2" y2="2993.2" stroke="#0000ff" stroke-width="2"/>
<text transform="translate(171 2998) scale(0.82 1)" font-size="16" text-anchor="start" fill="#000">Tp</text>
</svg>
</body></html>
